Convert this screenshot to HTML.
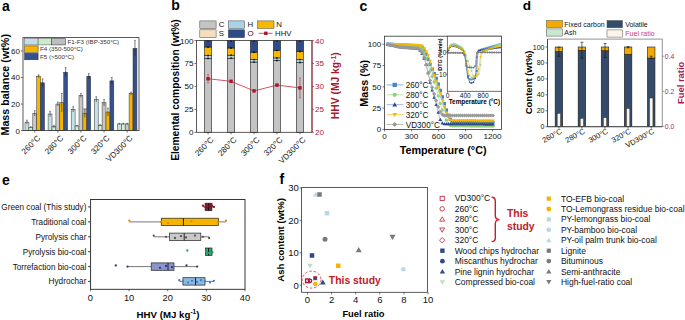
<!DOCTYPE html>
<html><head><meta charset="utf-8"><style>
html,body{margin:0;padding:0;background:#fff;width:685px;height:320px;overflow:hidden}
svg{display:block}
text{font-family:"Liberation Sans", sans-serif}
</style></head><body>
<svg width="685" height="320" viewBox="0 0 685 320">
<text x="2.00" y="11.00" font-size="14" font-weight="bold" text-anchor="start" fill="#000">a</text>
<text x="171.20" y="9.60" font-size="14" font-weight="bold" text-anchor="start" fill="#000">b</text>
<text x="359.60" y="10.60" font-size="14" font-weight="bold" text-anchor="start" fill="#000">c</text>
<text x="522.80" y="10.30" font-size="13.6" font-weight="bold" text-anchor="start" fill="#000">d</text>
<text x="2.00" y="185.00" font-size="14" font-weight="bold" text-anchor="start" fill="#000">e</text>
<text x="279.50" y="184.00" font-size="14" font-weight="bold" text-anchor="start" fill="#000">f</text>
<rect x="82.90" y="108.31" width="3.90" height="5.04" fill="#D6D6D6" stroke="#999" stroke-width="0.4"/>
<rect x="25.00" y="122.11" width="3.90" height="8.49" fill="#C6E1EC" stroke="#333" stroke-width="0.5"/>
<rect x="28.90" y="127.42" width="3.90" height="3.18" fill="#D3EFD0" stroke="#333" stroke-width="0.5"/>
<rect x="32.80" y="113.35" width="3.90" height="17.25" fill="#C8C8C8" stroke="#333" stroke-width="0.5"/>
<rect x="36.70" y="76.19" width="3.90" height="54.41" fill="#F7B500" stroke="#333" stroke-width="0.5"/>
<rect x="40.60" y="82.83" width="3.90" height="47.77" fill="#34508E" stroke="#333" stroke-width="0.5"/>
<line x1="26.95" y1="120.12" x2="26.95" y2="124.10" stroke="#222" stroke-width="0.6"/>
<line x1="26.15" y1="120.12" x2="27.75" y2="120.12" stroke="#222" stroke-width="0.5"/>
<line x1="30.85" y1="126.75" x2="30.85" y2="128.08" stroke="#222" stroke-width="0.6"/>
<line x1="30.05" y1="126.75" x2="31.65" y2="126.75" stroke="#222" stroke-width="0.5"/>
<line x1="34.75" y1="110.69" x2="34.75" y2="116.00" stroke="#222" stroke-width="0.6"/>
<line x1="33.95" y1="110.69" x2="35.55" y2="110.69" stroke="#222" stroke-width="0.5"/>
<line x1="38.65" y1="74.87" x2="38.65" y2="77.52" stroke="#222" stroke-width="0.6"/>
<line x1="37.85" y1="74.87" x2="39.45" y2="74.87" stroke="#222" stroke-width="0.5"/>
<line x1="42.55" y1="78.85" x2="42.55" y2="86.81" stroke="#222" stroke-width="0.6"/>
<line x1="41.75" y1="78.85" x2="43.35" y2="78.85" stroke="#222" stroke-width="0.5"/>
<rect x="48.10" y="114.01" width="3.90" height="16.59" fill="#C6E1EC" stroke="#333" stroke-width="0.5"/>
<rect x="52.00" y="126.62" width="3.90" height="3.98" fill="#D3EFD0" stroke="#333" stroke-width="0.5"/>
<rect x="55.90" y="104.06" width="3.90" height="26.54" fill="#C8C8C8" stroke="#333" stroke-width="0.5"/>
<rect x="59.80" y="102.73" width="3.90" height="27.87" fill="#F7B500" stroke="#333" stroke-width="0.5"/>
<rect x="63.70" y="72.21" width="3.90" height="58.39" fill="#34508E" stroke="#333" stroke-width="0.5"/>
<line x1="50.05" y1="111.36" x2="50.05" y2="116.67" stroke="#222" stroke-width="0.6"/>
<line x1="49.25" y1="111.36" x2="50.85" y2="111.36" stroke="#222" stroke-width="0.5"/>
<line x1="53.95" y1="125.29" x2="53.95" y2="127.95" stroke="#222" stroke-width="0.6"/>
<line x1="53.15" y1="125.29" x2="54.75" y2="125.29" stroke="#222" stroke-width="0.5"/>
<line x1="57.85" y1="102.07" x2="57.85" y2="106.05" stroke="#222" stroke-width="0.6"/>
<line x1="57.05" y1="102.07" x2="58.65" y2="102.07" stroke="#222" stroke-width="0.5"/>
<line x1="61.75" y1="93.44" x2="61.75" y2="112.02" stroke="#222" stroke-width="0.6"/>
<line x1="60.95" y1="93.44" x2="62.55" y2="93.44" stroke="#222" stroke-width="0.5"/>
<line x1="65.65" y1="67.57" x2="65.65" y2="76.86" stroke="#222" stroke-width="0.6"/>
<line x1="64.85" y1="67.57" x2="66.45" y2="67.57" stroke="#222" stroke-width="0.5"/>
<rect x="71.20" y="109.37" width="3.90" height="21.23" fill="#C6E1EC" stroke="#333" stroke-width="0.5"/>
<rect x="75.10" y="125.96" width="3.90" height="4.64" fill="#D3EFD0" stroke="#333" stroke-width="0.5"/>
<rect x="79.00" y="95.43" width="3.90" height="35.17" fill="#C8C8C8" stroke="#333" stroke-width="0.5"/>
<rect x="82.90" y="113.35" width="3.90" height="17.25" fill="#F7B500" stroke="#333" stroke-width="0.5"/>
<rect x="86.80" y="76.19" width="3.90" height="54.41" fill="#34508E" stroke="#333" stroke-width="0.5"/>
<line x1="73.15" y1="106.71" x2="73.15" y2="112.02" stroke="#222" stroke-width="0.6"/>
<line x1="72.35" y1="106.71" x2="73.95" y2="106.71" stroke="#222" stroke-width="0.5"/>
<line x1="77.05" y1="125.29" x2="77.05" y2="126.62" stroke="#222" stroke-width="0.6"/>
<line x1="76.25" y1="125.29" x2="77.85" y2="125.29" stroke="#222" stroke-width="0.5"/>
<line x1="80.95" y1="93.44" x2="80.95" y2="97.42" stroke="#222" stroke-width="0.6"/>
<line x1="80.15" y1="93.44" x2="81.75" y2="93.44" stroke="#222" stroke-width="0.5"/>
<line x1="84.85" y1="109.37" x2="84.85" y2="117.33" stroke="#222" stroke-width="0.6"/>
<line x1="84.05" y1="109.37" x2="85.65" y2="109.37" stroke="#222" stroke-width="0.5"/>
<line x1="88.75" y1="73.54" x2="88.75" y2="78.85" stroke="#222" stroke-width="0.6"/>
<line x1="87.95" y1="73.54" x2="89.55" y2="73.54" stroke="#222" stroke-width="0.5"/>
<rect x="94.30" y="99.42" width="3.90" height="31.18" fill="#C6E1EC" stroke="#333" stroke-width="0.5"/>
<rect x="98.20" y="125.29" width="3.90" height="5.31" fill="#D3EFD0" stroke="#333" stroke-width="0.5"/>
<rect x="102.10" y="102.73" width="3.90" height="27.87" fill="#C8C8C8" stroke="#333" stroke-width="0.5"/>
<rect x="106.00" y="112.02" width="3.90" height="18.58" fill="#F7B500" stroke="#333" stroke-width="0.5"/>
<rect x="109.90" y="80.84" width="3.90" height="49.76" fill="#34508E" stroke="#333" stroke-width="0.5"/>
<line x1="96.25" y1="96.76" x2="96.25" y2="102.07" stroke="#222" stroke-width="0.6"/>
<line x1="95.45" y1="96.76" x2="97.05" y2="96.76" stroke="#222" stroke-width="0.5"/>
<line x1="100.15" y1="124.63" x2="100.15" y2="125.96" stroke="#222" stroke-width="0.6"/>
<line x1="99.35" y1="124.63" x2="100.95" y2="124.63" stroke="#222" stroke-width="0.5"/>
<line x1="104.05" y1="99.42" x2="104.05" y2="106.05" stroke="#222" stroke-width="0.6"/>
<line x1="103.25" y1="99.42" x2="104.85" y2="99.42" stroke="#222" stroke-width="0.5"/>
<line x1="107.95" y1="108.04" x2="107.95" y2="116.00" stroke="#222" stroke-width="0.6"/>
<line x1="107.15" y1="108.04" x2="108.75" y2="108.04" stroke="#222" stroke-width="0.5"/>
<line x1="111.85" y1="77.52" x2="111.85" y2="84.16" stroke="#222" stroke-width="0.6"/>
<line x1="111.05" y1="77.52" x2="112.65" y2="77.52" stroke="#222" stroke-width="0.5"/>
<rect x="117.40" y="123.96" width="3.90" height="6.64" fill="#C6E1EC" stroke="#333" stroke-width="0.5"/>
<rect x="121.30" y="123.96" width="3.90" height="6.64" fill="#D3EFD0" stroke="#333" stroke-width="0.5"/>
<rect x="125.20" y="123.96" width="3.90" height="6.64" fill="#C8C8C8" stroke="#333" stroke-width="0.5"/>
<rect x="129.10" y="93.44" width="3.90" height="37.16" fill="#F7B500" stroke="#333" stroke-width="0.5"/>
<rect x="133.00" y="48.33" width="3.90" height="82.27" fill="#34508E" stroke="#333" stroke-width="0.5"/>
<line x1="119.35" y1="123.30" x2="119.35" y2="124.63" stroke="#222" stroke-width="0.6"/>
<line x1="118.55" y1="123.30" x2="120.15" y2="123.30" stroke="#222" stroke-width="0.5"/>
<line x1="123.25" y1="123.30" x2="123.25" y2="124.63" stroke="#222" stroke-width="0.6"/>
<line x1="122.45" y1="123.30" x2="124.05" y2="123.30" stroke="#222" stroke-width="0.5"/>
<line x1="127.15" y1="123.30" x2="127.15" y2="124.63" stroke="#222" stroke-width="0.6"/>
<line x1="126.35" y1="123.30" x2="127.95" y2="123.30" stroke="#222" stroke-width="0.5"/>
<line x1="131.05" y1="92.12" x2="131.05" y2="94.77" stroke="#222" stroke-width="0.6"/>
<line x1="130.25" y1="92.12" x2="131.85" y2="92.12" stroke="#222" stroke-width="0.5"/>
<line x1="134.95" y1="40.36" x2="134.95" y2="56.29" stroke="#222" stroke-width="0.6"/>
<line x1="134.15" y1="40.36" x2="135.75" y2="40.36" stroke="#222" stroke-width="0.5"/>
<rect x="23.00" y="37.60" width="116.00" height="93.00" fill="none" stroke="#333" stroke-width="0.8"/>
<line x1="21.00" y1="130.60" x2="23.00" y2="130.60" stroke="#333" stroke-width="0.7"/>
<text x="20.00" y="133.50" font-size="8" text-anchor="end" fill="#111">0</text>
<line x1="21.00" y1="104.06" x2="23.00" y2="104.06" stroke="#333" stroke-width="0.7"/>
<text x="20.00" y="106.96" font-size="8" text-anchor="end" fill="#111">20</text>
<line x1="21.00" y1="77.52" x2="23.00" y2="77.52" stroke="#333" stroke-width="0.7"/>
<text x="20.00" y="80.42" font-size="8" text-anchor="end" fill="#111">40</text>
<line x1="21.00" y1="50.98" x2="23.00" y2="50.98" stroke="#333" stroke-width="0.7"/>
<text x="20.00" y="53.88" font-size="8" text-anchor="end" fill="#111">60</text>
<line x1="34.75" y1="130.60" x2="34.75" y2="132.60" stroke="#333" stroke-width="0.7"/>
<line x1="57.85" y1="130.60" x2="57.85" y2="132.60" stroke="#333" stroke-width="0.7"/>
<line x1="80.95" y1="130.60" x2="80.95" y2="132.60" stroke="#333" stroke-width="0.7"/>
<line x1="104.05" y1="130.60" x2="104.05" y2="132.60" stroke="#333" stroke-width="0.7"/>
<line x1="127.15" y1="130.60" x2="127.15" y2="132.60" stroke="#333" stroke-width="0.7"/>
<text x="40.85" y="138.70" font-size="8.1" text-anchor="end" fill="#111" transform="rotate(-45 40.85 138.70)">260°C</text>
<text x="63.95" y="138.70" font-size="8.1" text-anchor="end" fill="#111" transform="rotate(-45 63.95 138.70)">280°C</text>
<text x="87.05" y="138.70" font-size="8.1" text-anchor="end" fill="#111" transform="rotate(-45 87.05 138.70)">300°C</text>
<text x="110.15" y="138.70" font-size="8.1" text-anchor="end" fill="#111" transform="rotate(-45 110.15 138.70)">320°C</text>
<text x="133.25" y="138.70" font-size="8.1" text-anchor="end" fill="#111" transform="rotate(-45 133.25 138.70)">VD300°C</text>
<text x="8.60" y="84.80" font-size="10.75" font-weight="bold" text-anchor="middle" fill="#000" transform="rotate(-90 8.60 84.80)">Mass balance (wt%)</text>
<rect x="24.60" y="38.70" width="13.50" height="6.20" fill="#C5DDEA" stroke="#555" stroke-width="0.5"/>
<rect x="38.10" y="38.70" width="13.50" height="6.20" fill="#CBEBC8" stroke="#555" stroke-width="0.5"/>
<rect x="51.60" y="38.70" width="13.80" height="6.20" fill="#BDBDBD" stroke="#444" stroke-width="0.6"/>
<text x="67.50" y="43.80" font-size="6.2" text-anchor="start" fill="#333">F1-F3 (IBP-350°C)</text>
<rect x="24.60" y="45.90" width="13.50" height="6.40" fill="#F7B500" stroke="#333" stroke-width="0.5"/>
<text x="40.00" y="51.20" font-size="6.2" text-anchor="start" fill="#333">F4 (350-500°C)</text>
<rect x="24.60" y="53.30" width="13.50" height="6.50" fill="#34508E" stroke="#333" stroke-width="0.5"/>
<text x="40.00" y="58.70" font-size="6.2" text-anchor="start" fill="#333">F5 (&gt;500°C)</text>
<rect x="204.40" y="58.40" width="7.30" height="73.90" fill="#C4C4C4" stroke="#222" stroke-width="0.6"/>
<rect x="204.40" y="55.50" width="7.30" height="2.90" fill="#A8D4E6" stroke="#222" stroke-width="0.6"/>
<rect x="204.40" y="47.00" width="7.30" height="8.50" fill="#F8B800" stroke="#222" stroke-width="0.6"/>
<rect x="204.40" y="40.60" width="7.30" height="6.40" fill="#2E4A88" stroke="#222" stroke-width="0.6"/>
<circle cx="208.05" cy="47.00" r="0.90" fill="#111" stroke="none" stroke-width="0.5"/>
<circle cx="208.05" cy="55.50" r="0.90" fill="#111" stroke="none" stroke-width="0.5"/>
<circle cx="208.05" cy="58.40" r="0.90" fill="#111" stroke="none" stroke-width="0.5"/>
<circle cx="208.05" cy="40.90" r="0.90" fill="#111" stroke="none" stroke-width="0.5"/>
<rect x="227.40" y="58.20" width="7.30" height="74.10" fill="#C4C4C4" stroke="#222" stroke-width="0.6"/>
<rect x="227.40" y="55.20" width="7.30" height="3.00" fill="#A8D4E6" stroke="#222" stroke-width="0.6"/>
<rect x="227.40" y="48.00" width="7.30" height="7.20" fill="#F8B800" stroke="#222" stroke-width="0.6"/>
<rect x="227.40" y="40.60" width="7.30" height="7.40" fill="#2E4A88" stroke="#222" stroke-width="0.6"/>
<circle cx="231.05" cy="48.00" r="0.90" fill="#111" stroke="none" stroke-width="0.5"/>
<circle cx="231.05" cy="55.20" r="0.90" fill="#111" stroke="none" stroke-width="0.5"/>
<circle cx="231.05" cy="58.20" r="0.90" fill="#111" stroke="none" stroke-width="0.5"/>
<circle cx="231.05" cy="40.90" r="0.90" fill="#111" stroke="none" stroke-width="0.5"/>
<rect x="250.40" y="62.10" width="7.30" height="70.20" fill="#C4C4C4" stroke="#222" stroke-width="0.6"/>
<rect x="250.40" y="59.60" width="7.30" height="2.50" fill="#A8D4E6" stroke="#222" stroke-width="0.6"/>
<rect x="250.40" y="52.20" width="7.30" height="7.40" fill="#F8B800" stroke="#222" stroke-width="0.6"/>
<rect x="250.40" y="40.60" width="7.30" height="11.60" fill="#2E4A88" stroke="#222" stroke-width="0.6"/>
<circle cx="254.05" cy="52.20" r="0.90" fill="#111" stroke="none" stroke-width="0.5"/>
<circle cx="254.05" cy="59.60" r="0.90" fill="#111" stroke="none" stroke-width="0.5"/>
<circle cx="254.05" cy="62.10" r="0.90" fill="#111" stroke="none" stroke-width="0.5"/>
<circle cx="254.05" cy="40.90" r="0.90" fill="#111" stroke="none" stroke-width="0.5"/>
<rect x="273.30" y="60.50" width="7.30" height="71.80" fill="#C4C4C4" stroke="#222" stroke-width="0.6"/>
<rect x="273.30" y="57.90" width="7.30" height="2.60" fill="#A8D4E6" stroke="#222" stroke-width="0.6"/>
<rect x="273.30" y="50.30" width="7.30" height="7.60" fill="#F8B800" stroke="#222" stroke-width="0.6"/>
<rect x="273.30" y="40.60" width="7.30" height="9.70" fill="#2E4A88" stroke="#222" stroke-width="0.6"/>
<circle cx="276.95" cy="50.30" r="0.90" fill="#111" stroke="none" stroke-width="0.5"/>
<circle cx="276.95" cy="57.90" r="0.90" fill="#111" stroke="none" stroke-width="0.5"/>
<circle cx="276.95" cy="60.50" r="0.90" fill="#111" stroke="none" stroke-width="0.5"/>
<circle cx="276.95" cy="40.90" r="0.90" fill="#111" stroke="none" stroke-width="0.5"/>
<rect x="296.30" y="62.50" width="7.30" height="69.80" fill="#C4C4C4" stroke="#222" stroke-width="0.6"/>
<rect x="296.30" y="59.60" width="7.30" height="2.90" fill="#A8D4E6" stroke="#222" stroke-width="0.6"/>
<rect x="296.30" y="51.50" width="7.30" height="8.10" fill="#F8B800" stroke="#222" stroke-width="0.6"/>
<rect x="296.30" y="40.60" width="7.30" height="10.90" fill="#2E4A88" stroke="#222" stroke-width="0.6"/>
<circle cx="299.95" cy="51.50" r="0.90" fill="#111" stroke="none" stroke-width="0.5"/>
<circle cx="299.95" cy="59.60" r="0.90" fill="#111" stroke="none" stroke-width="0.5"/>
<circle cx="299.95" cy="62.50" r="0.90" fill="#111" stroke="none" stroke-width="0.5"/>
<circle cx="299.95" cy="40.90" r="0.90" fill="#111" stroke="none" stroke-width="0.5"/>
<rect x="196.50" y="40.60" width="115.50" height="91.70" fill="none" stroke="#333" stroke-width="0.8"/>
<line x1="312.00" y1="40.60" x2="312.00" y2="132.30" stroke="#B22234" stroke-width="0.9"/>
<line x1="194.50" y1="132.30" x2="196.50" y2="132.30" stroke="#333" stroke-width="0.7"/>
<text x="193.50" y="135.20" font-size="8.1" text-anchor="end" fill="#111">0</text>
<line x1="312.00" y1="132.30" x2="314.00" y2="132.30" stroke="#B22234" stroke-width="0.7"/>
<text x="315.00" y="135.20" font-size="8.1" text-anchor="start" fill="#B22234">20</text>
<line x1="194.50" y1="109.38" x2="196.50" y2="109.38" stroke="#333" stroke-width="0.7"/>
<text x="193.50" y="112.28" font-size="8.1" text-anchor="end" fill="#111">25</text>
<line x1="312.00" y1="109.38" x2="314.00" y2="109.38" stroke="#B22234" stroke-width="0.7"/>
<text x="315.00" y="112.28" font-size="8.1" text-anchor="start" fill="#B22234">25</text>
<line x1="194.50" y1="86.45" x2="196.50" y2="86.45" stroke="#333" stroke-width="0.7"/>
<text x="193.50" y="89.35" font-size="8.1" text-anchor="end" fill="#111">50</text>
<line x1="312.00" y1="86.45" x2="314.00" y2="86.45" stroke="#B22234" stroke-width="0.7"/>
<text x="315.00" y="89.35" font-size="8.1" text-anchor="start" fill="#B22234">30</text>
<line x1="194.50" y1="63.53" x2="196.50" y2="63.53" stroke="#333" stroke-width="0.7"/>
<text x="193.50" y="66.43" font-size="8.1" text-anchor="end" fill="#111">75</text>
<line x1="312.00" y1="63.53" x2="314.00" y2="63.53" stroke="#B22234" stroke-width="0.7"/>
<text x="315.00" y="66.43" font-size="8.1" text-anchor="start" fill="#B22234">35</text>
<line x1="194.50" y1="40.60" x2="196.50" y2="40.60" stroke="#333" stroke-width="0.7"/>
<text x="193.50" y="43.50" font-size="8.1" text-anchor="end" fill="#111">100</text>
<line x1="312.00" y1="40.60" x2="314.00" y2="40.60" stroke="#B22234" stroke-width="0.7"/>
<text x="315.00" y="43.50" font-size="8.1" text-anchor="start" fill="#B22234">40</text>
<line x1="208.05" y1="132.30" x2="208.05" y2="134.30" stroke="#333" stroke-width="0.7"/>
<text x="214.15" y="140.40" font-size="8.1" text-anchor="end" fill="#111" transform="rotate(-45 214.15 140.40)">260°C</text>
<line x1="231.05" y1="132.30" x2="231.05" y2="134.30" stroke="#333" stroke-width="0.7"/>
<text x="237.15" y="140.40" font-size="8.1" text-anchor="end" fill="#111" transform="rotate(-45 237.15 140.40)">280°C</text>
<line x1="254.05" y1="132.30" x2="254.05" y2="134.30" stroke="#333" stroke-width="0.7"/>
<text x="260.15" y="140.40" font-size="8.1" text-anchor="end" fill="#111" transform="rotate(-45 260.15 140.40)">300°C</text>
<line x1="276.95" y1="132.30" x2="276.95" y2="134.30" stroke="#333" stroke-width="0.7"/>
<text x="283.05" y="140.40" font-size="8.1" text-anchor="end" fill="#111" transform="rotate(-45 283.05 140.40)">320°C</text>
<line x1="299.95" y1="132.30" x2="299.95" y2="134.30" stroke="#333" stroke-width="0.7"/>
<text x="306.05" y="140.40" font-size="8.1" text-anchor="end" fill="#111" transform="rotate(-45 306.05 140.40)">VD300°C</text>
<text x="179.20" y="90.00" font-size="10.2" font-weight="bold" text-anchor="middle" fill="#000" transform="rotate(-90 179.20 90.00)">Elemental composition (wt%)</text>
<text x="339.2" y="85.7" font-size="10.3" font-weight="bold" text-anchor="middle" fill="#A8182C" transform="rotate(-90 339.2 85.7)">HHV (MJ kg<tspan dy="-3.5" font-size="7">-1</tspan><tspan dy="3.5">)</tspan></text>
<polyline points="208.05,78.75 231.05,81.30 254.05,90.90 276.95,85.10 299.95,87.90" fill="none" stroke="#C8283A" stroke-width="0.8"/>
<line x1="208.05" y1="74.55" x2="208.05" y2="82.95" stroke="#C8283A" stroke-width="0.6"/>
<line x1="207.05" y1="74.55" x2="209.05" y2="74.55" stroke="#C8283A" stroke-width="0.5"/>
<line x1="207.05" y1="82.95" x2="209.05" y2="82.95" stroke="#C8283A" stroke-width="0.5"/>
<rect x="206.35" y="77.05" width="3.40" height="3.40" fill="#A8162A" stroke="none" stroke-width="0.6"/>
<line x1="231.05" y1="80.30" x2="231.05" y2="82.30" stroke="#C8283A" stroke-width="0.6"/>
<line x1="230.05" y1="80.30" x2="232.05" y2="80.30" stroke="#C8283A" stroke-width="0.5"/>
<line x1="230.05" y1="82.30" x2="232.05" y2="82.30" stroke="#C8283A" stroke-width="0.5"/>
<rect x="229.35" y="79.60" width="3.40" height="3.40" fill="#A8162A" stroke="none" stroke-width="0.6"/>
<line x1="254.05" y1="89.90" x2="254.05" y2="91.90" stroke="#C8283A" stroke-width="0.6"/>
<line x1="253.05" y1="89.90" x2="255.05" y2="89.90" stroke="#C8283A" stroke-width="0.5"/>
<line x1="253.05" y1="91.90" x2="255.05" y2="91.90" stroke="#C8283A" stroke-width="0.5"/>
<rect x="252.35" y="89.20" width="3.40" height="3.40" fill="#A8162A" stroke="none" stroke-width="0.6"/>
<line x1="276.95" y1="84.10" x2="276.95" y2="86.10" stroke="#C8283A" stroke-width="0.6"/>
<line x1="275.95" y1="84.10" x2="277.95" y2="84.10" stroke="#C8283A" stroke-width="0.5"/>
<line x1="275.95" y1="86.10" x2="277.95" y2="86.10" stroke="#C8283A" stroke-width="0.5"/>
<rect x="275.25" y="83.40" width="3.40" height="3.40" fill="#A8162A" stroke="none" stroke-width="0.6"/>
<line x1="299.95" y1="77.90" x2="299.95" y2="97.90" stroke="#C8283A" stroke-width="0.6"/>
<line x1="298.95" y1="77.90" x2="300.95" y2="77.90" stroke="#C8283A" stroke-width="0.5"/>
<line x1="298.95" y1="97.90" x2="300.95" y2="97.90" stroke="#C8283A" stroke-width="0.5"/>
<rect x="298.25" y="86.20" width="3.40" height="3.40" fill="#A8162A" stroke="none" stroke-width="0.6"/>
<rect x="199.80" y="20.90" width="16.30" height="7.50" fill="#C4C4C4" stroke="#444" stroke-width="0.5"/>
<text x="218.80" y="27.00" font-size="7.8" text-anchor="start" fill="#111">C</text>
<rect x="228.30" y="20.90" width="16.30" height="7.50" fill="#A8D4E6" stroke="#444" stroke-width="0.5"/>
<text x="247.50" y="27.00" font-size="7.8" text-anchor="start" fill="#111">H</text>
<rect x="257.50" y="20.90" width="16.50" height="7.50" fill="#F8B800" stroke="#444" stroke-width="0.5"/>
<text x="276.20" y="27.00" font-size="7.8" text-anchor="start" fill="#111">N</text>
<rect x="199.80" y="29.80" width="16.30" height="7.90" fill="#F5DEC0" stroke="#444" stroke-width="0.5"/>
<text x="218.80" y="36.40" font-size="7.8" text-anchor="start" fill="#111">S</text>
<rect x="228.30" y="29.80" width="16.30" height="7.90" fill="#2E4A88" stroke="#444" stroke-width="0.5"/>
<text x="247.50" y="36.40" font-size="7.8" text-anchor="start" fill="#111">O</text>
<line x1="258.70" y1="33.30" x2="272.50" y2="33.30" stroke="#C8283A" stroke-width="0.8"/>
<rect x="264.10" y="31.60" width="3.40" height="3.40" fill="#A8162A" stroke="none" stroke-width="0.6"/>
<text x="275.00" y="36.20" font-size="7.8" text-anchor="start" fill="#111">HHV</text>
<polyline points="387.20,44.27 387.57,44.28 387.94,44.30 388.30,44.31 388.67,44.33 389.04,44.35 389.41,44.37 389.78,44.39 390.14,44.41 390.51,44.43 390.88,44.44 391.25,44.46 391.62,44.48 391.98,44.50 392.35,44.52 392.72,44.54 393.09,44.56 393.46,44.58 393.82,44.60 394.19,44.62 394.56,44.64 394.93,44.66 395.30,44.68 395.66,44.70 396.03,44.72 396.40,44.74 396.77,44.76 397.14,44.78 397.50,44.79 397.87,44.81 398.24,44.83 398.61,44.85 398.98,44.87 399.34,44.89 399.71,44.91 400.08,44.93 400.45,44.95 400.82,44.97 401.18,44.99 401.55,45.01 401.92,45.03 402.29,45.05 402.66,45.07 403.02,45.10 403.39,45.12 403.76,45.15 404.13,45.18 404.50,45.21 404.86,45.25 405.23,45.28 405.60,45.31 405.97,45.35 406.34,45.38 406.70,45.42 407.07,45.45 407.44,45.48 407.81,45.52 408.18,45.55 408.54,45.59 408.91,45.62 409.28,45.65 409.65,45.69 410.02,45.72 410.38,45.76 410.75,45.79 411.12,45.83 411.49,45.86 411.86,45.89 412.22,45.93 412.59,45.96 412.96,46.00 413.33,46.03 413.70,46.06 414.06,46.10 414.43,46.13 414.80,46.17 415.17,46.20 415.54,46.23 415.90,46.27 416.27,46.30 416.64,46.34 417.01,46.37 417.38,46.40 417.74,46.44 418.11,46.47 418.48,46.51 418.85,46.54 419.22,46.57 419.58,46.61 419.95,46.66 420.32,46.73 420.69,46.83 421.06,46.96 421.42,47.17 421.79,47.41 422.16,47.75 422.53,48.11 422.90,48.55 423.26,49.01 423.63,49.52 424.00,50.05 424.37,50.63 424.74,51.23 425.10,51.91 425.47,52.62 425.84,53.43 426.21,54.26 426.58,55.16 426.94,56.08 427.31,57.04 427.68,58.00 428.05,58.97 428.42,59.94 428.78,60.90 429.15,61.85 429.52,62.80 429.89,63.74 430.26,64.65 430.62,65.56 430.99,66.45 431.36,67.33 431.73,68.19 432.10,69.04 432.46,69.87 432.83,70.68 433.20,71.48 433.57,72.26 433.94,73.05 434.30,73.83 434.67,74.62 435.04,75.44 435.41,76.28 435.78,77.17 436.14,78.09 436.51,79.07 436.88,80.08 437.25,81.14 437.62,82.22 437.98,83.33 438.35,84.45 438.72,85.58 439.09,86.72 439.46,87.86 439.82,89.02 440.19,90.18 440.56,91.34 440.93,92.50 441.30,93.67 441.66,94.85 442.03,96.04 442.40,97.24 442.77,98.45 443.14,99.69 443.50,100.93 443.87,102.19 444.24,103.44 444.61,104.68 444.98,105.91 445.34,107.10 445.71,108.26 446.08,109.36 446.45,110.42 446.82,111.45 447.18,112.42 447.55,113.37 447.92,114.27 448.29,115.16 448.66,115.98 449.02,116.80 449.39,117.53 449.76,118.26 450.13,118.91 450.50,119.55 450.86,120.11 451.23,120.65 451.60,121.08 451.97,121.47 452.34,121.74 452.70,121.97 453.07,122.10 453.44,122.19 453.81,122.23 454.18,122.26 454.54,122.27 454.91,122.27 455.28,122.27 455.65,122.28 456.02,122.28 456.38,122.28 456.75,122.28 457.12,122.29 457.49,122.29 457.86,122.29 458.22,122.30 458.59,122.30 458.96,122.30 459.33,122.30 459.70,122.31 460.06,122.31 460.43,122.31 460.80,122.32 461.17,122.32 461.54,122.32 461.90,122.32 462.27,122.33 462.64,122.33 463.01,122.33 463.38,122.34 463.74,122.34 464.11,122.34 464.48,122.35 464.85,122.35 465.22,122.35 465.58,122.35 465.95,122.36 466.32,122.36 466.69,122.36 467.06,122.37 467.42,122.37 467.79,122.37 468.16,122.37 468.53,122.38 468.90,122.38 469.26,122.38 469.63,122.39 470.00,122.39 470.37,122.39 470.74,122.39 471.10,122.40 471.47,122.40 471.84,122.40 472.21,122.41 472.58,122.41 472.94,122.41 473.31,122.41 473.68,122.42 474.05,122.42 474.42,122.42 474.78,122.43 475.15,122.43 475.52,122.43 475.89,122.44 476.26,122.44 476.62,122.44 476.99,122.44 477.36,122.45 477.73,122.45 478.10,122.45 478.46,122.46 478.83,122.46 479.20,122.46 479.57,122.46 479.94,122.47 480.30,122.47 480.67,122.47 481.04,122.48 481.41,122.48 481.78,122.48 482.14,122.48 482.51,122.49 482.88,122.49 483.25,122.49 483.62,122.50 483.98,122.50 484.35,122.50 484.72,122.50 485.09,122.51 485.46,122.51 485.82,122.51 486.19,122.52 486.56,122.52 486.93,122.52 487.30,122.52 487.66,122.53 488.03,122.53 488.40,122.53 488.77,122.54 489.14,122.54 489.50,122.54 489.87,122.55 490.24,122.55 490.61,122.55 490.98,122.55 491.34,122.56 491.71,122.56 492.08,122.56 492.45,122.57 492.82,122.57 493.18,122.57 493.55,122.57 493.92,122.58 494.29,122.58" fill="none" stroke="#7FAAD2" stroke-width="0.8"/>
<rect x="385.96" y="42.59" width="3.40" height="3.40" fill="#4A86BE" stroke="none" stroke-width="0.6"/>
<rect x="387.98" y="42.68" width="3.40" height="3.40" fill="#4A86BE" stroke="none" stroke-width="0.6"/>
<rect x="390.01" y="42.79" width="3.40" height="3.40" fill="#4A86BE" stroke="none" stroke-width="0.6"/>
<rect x="392.03" y="42.90" width="3.40" height="3.40" fill="#4A86BE" stroke="none" stroke-width="0.6"/>
<rect x="394.06" y="43.00" width="3.40" height="3.40" fill="#4A86BE" stroke="none" stroke-width="0.6"/>
<rect x="396.08" y="43.11" width="3.40" height="3.40" fill="#4A86BE" stroke="none" stroke-width="0.6"/>
<rect x="398.10" y="43.22" width="3.40" height="3.40" fill="#4A86BE" stroke="none" stroke-width="0.6"/>
<rect x="400.13" y="43.32" width="3.40" height="3.40" fill="#4A86BE" stroke="none" stroke-width="0.6"/>
<rect x="402.15" y="43.46" width="3.40" height="3.40" fill="#4A86BE" stroke="none" stroke-width="0.6"/>
<rect x="404.18" y="43.64" width="3.40" height="3.40" fill="#4A86BE" stroke="none" stroke-width="0.6"/>
<rect x="406.20" y="43.83" width="3.40" height="3.40" fill="#4A86BE" stroke="none" stroke-width="0.6"/>
<rect x="408.22" y="44.01" width="3.40" height="3.40" fill="#4A86BE" stroke="none" stroke-width="0.6"/>
<rect x="410.25" y="44.20" width="3.40" height="3.40" fill="#4A86BE" stroke="none" stroke-width="0.6"/>
<rect x="412.27" y="44.39" width="3.40" height="3.40" fill="#4A86BE" stroke="none" stroke-width="0.6"/>
<rect x="414.30" y="44.58" width="3.40" height="3.40" fill="#4A86BE" stroke="none" stroke-width="0.6"/>
<rect x="416.32" y="44.76" width="3.40" height="3.40" fill="#4A86BE" stroke="none" stroke-width="0.6"/>
<rect x="418.34" y="44.98" width="3.40" height="3.40" fill="#4A86BE" stroke="none" stroke-width="0.6"/>
<rect x="420.37" y="45.97" width="3.40" height="3.40" fill="#4A86BE" stroke="none" stroke-width="0.6"/>
<rect x="422.39" y="48.49" width="3.40" height="3.40" fill="#4A86BE" stroke="none" stroke-width="0.6"/>
<rect x="424.42" y="52.33" width="3.40" height="3.40" fill="#4A86BE" stroke="none" stroke-width="0.6"/>
<rect x="426.44" y="57.51" width="3.40" height="3.40" fill="#4A86BE" stroke="none" stroke-width="0.6"/>
<rect x="428.46" y="62.72" width="3.40" height="3.40" fill="#4A86BE" stroke="none" stroke-width="0.6"/>
<rect x="430.49" y="67.55" width="3.40" height="3.40" fill="#4A86BE" stroke="none" stroke-width="0.6"/>
<rect x="432.51" y="71.94" width="3.40" height="3.40" fill="#4A86BE" stroke="none" stroke-width="0.6"/>
<rect x="434.54" y="76.63" width="3.40" height="3.40" fill="#4A86BE" stroke="none" stroke-width="0.6"/>
<rect x="436.56" y="82.46" width="3.40" height="3.40" fill="#4A86BE" stroke="none" stroke-width="0.6"/>
<rect x="438.58" y="88.76" width="3.40" height="3.40" fill="#4A86BE" stroke="none" stroke-width="0.6"/>
<rect x="440.61" y="95.24" width="3.40" height="3.40" fill="#4A86BE" stroke="none" stroke-width="0.6"/>
<rect x="442.63" y="102.05" width="3.40" height="3.40" fill="#4A86BE" stroke="none" stroke-width="0.6"/>
<rect x="444.66" y="108.46" width="3.40" height="3.40" fill="#4A86BE" stroke="none" stroke-width="0.6"/>
<rect x="446.68" y="113.66" width="3.40" height="3.40" fill="#4A86BE" stroke="none" stroke-width="0.6"/>
<rect x="448.70" y="117.69" width="3.40" height="3.40" fill="#4A86BE" stroke="none" stroke-width="0.6"/>
<rect x="450.73" y="120.10" width="3.40" height="3.40" fill="#4A86BE" stroke="none" stroke-width="0.6"/>
<rect x="452.75" y="120.57" width="3.40" height="3.40" fill="#4A86BE" stroke="none" stroke-width="0.6"/>
<rect x="454.78" y="120.58" width="3.40" height="3.40" fill="#4A86BE" stroke="none" stroke-width="0.6"/>
<rect x="456.80" y="120.60" width="3.40" height="3.40" fill="#4A86BE" stroke="none" stroke-width="0.6"/>
<rect x="458.82" y="120.61" width="3.40" height="3.40" fill="#4A86BE" stroke="none" stroke-width="0.6"/>
<rect x="460.85" y="120.63" width="3.40" height="3.40" fill="#4A86BE" stroke="none" stroke-width="0.6"/>
<rect x="462.87" y="120.65" width="3.40" height="3.40" fill="#4A86BE" stroke="none" stroke-width="0.6"/>
<rect x="464.90" y="120.66" width="3.40" height="3.40" fill="#4A86BE" stroke="none" stroke-width="0.6"/>
<rect x="466.92" y="120.68" width="3.40" height="3.40" fill="#4A86BE" stroke="none" stroke-width="0.6"/>
<rect x="468.94" y="120.69" width="3.40" height="3.40" fill="#4A86BE" stroke="none" stroke-width="0.6"/>
<rect x="470.97" y="120.71" width="3.40" height="3.40" fill="#4A86BE" stroke="none" stroke-width="0.6"/>
<rect x="472.99" y="120.73" width="3.40" height="3.40" fill="#4A86BE" stroke="none" stroke-width="0.6"/>
<rect x="475.02" y="120.74" width="3.40" height="3.40" fill="#4A86BE" stroke="none" stroke-width="0.6"/>
<rect x="477.04" y="120.76" width="3.40" height="3.40" fill="#4A86BE" stroke="none" stroke-width="0.6"/>
<rect x="479.06" y="120.77" width="3.40" height="3.40" fill="#4A86BE" stroke="none" stroke-width="0.6"/>
<rect x="481.09" y="120.79" width="3.40" height="3.40" fill="#4A86BE" stroke="none" stroke-width="0.6"/>
<rect x="483.11" y="120.81" width="3.40" height="3.40" fill="#4A86BE" stroke="none" stroke-width="0.6"/>
<rect x="485.14" y="120.82" width="3.40" height="3.40" fill="#4A86BE" stroke="none" stroke-width="0.6"/>
<rect x="487.16" y="120.84" width="3.40" height="3.40" fill="#4A86BE" stroke="none" stroke-width="0.6"/>
<rect x="489.18" y="120.85" width="3.40" height="3.40" fill="#4A86BE" stroke="none" stroke-width="0.6"/>
<rect x="491.21" y="120.87" width="3.40" height="3.40" fill="#4A86BE" stroke="none" stroke-width="0.6"/>
<polyline points="387.20,44.27 387.57,44.28 387.94,44.30 388.30,44.31 388.67,44.33 389.04,44.35 389.41,44.37 389.78,44.39 390.14,44.41 390.51,44.43 390.88,44.44 391.25,44.46 391.62,44.48 391.98,44.50 392.35,44.52 392.72,44.54 393.09,44.56 393.46,44.58 393.82,44.60 394.19,44.62 394.56,44.64 394.93,44.66 395.30,44.68 395.66,44.70 396.03,44.72 396.40,44.74 396.77,44.76 397.14,44.78 397.50,44.79 397.87,44.81 398.24,44.83 398.61,44.85 398.98,44.87 399.34,44.89 399.71,44.91 400.08,44.93 400.45,44.95 400.82,44.97 401.18,44.99 401.55,45.01 401.92,45.03 402.29,45.05 402.66,45.07 403.02,45.10 403.39,45.13 403.76,45.16 404.13,45.19 404.50,45.22 404.86,45.25 405.23,45.29 405.60,45.33 405.97,45.36 406.34,45.40 406.70,45.43 407.07,45.47 407.44,45.50 407.81,45.54 408.18,45.58 408.54,45.61 408.91,45.65 409.28,45.68 409.65,45.72 410.02,45.76 410.38,45.79 410.75,45.83 411.12,45.86 411.49,45.90 411.86,45.94 412.22,45.97 412.59,46.01 412.96,46.04 413.33,46.08 413.70,46.11 414.06,46.15 414.43,46.19 414.80,46.22 415.17,46.26 415.54,46.29 415.90,46.33 416.27,46.37 416.64,46.40 417.01,46.44 417.38,46.47 417.74,46.51 418.11,46.54 418.48,46.58 418.85,46.63 419.22,46.69 419.58,46.79 419.95,46.91 420.32,47.12 420.69,47.36 421.06,47.71 421.42,48.11 421.79,48.59 422.16,49.10 422.53,49.68 422.90,50.28 423.26,50.94 423.63,51.63 424.00,52.43 424.37,53.25 424.74,54.21 425.10,55.20 425.47,56.31 425.84,57.44 426.21,58.62 426.58,59.82 426.94,61.02 427.31,62.22 427.68,63.40 428.05,64.57 428.42,65.71 428.78,66.84 429.15,67.95 429.52,69.05 429.89,70.14 430.26,71.21 430.62,72.27 430.99,73.31 431.36,74.33 431.73,75.35 432.10,76.34 432.46,77.33 432.83,78.30 433.20,79.27 433.57,80.25 433.94,81.23 434.30,82.23 434.67,83.27 435.04,84.33 435.41,85.48 435.78,86.65 436.14,87.92 436.51,89.22 436.88,90.60 437.25,91.99 437.62,93.42 437.98,94.85 438.35,96.28 438.72,97.69 439.09,99.07 439.46,100.43 439.82,101.76 440.19,103.05 440.56,104.32 440.93,105.55 441.30,106.76 441.66,107.93 442.03,109.10 442.40,110.20 442.77,111.30 443.14,112.32 443.50,113.34 443.87,114.30 444.24,115.26 444.61,116.17 444.98,117.06 445.34,117.92 445.71,118.76 446.08,119.56 446.45,120.33 446.82,121.07 447.18,121.78 447.55,122.46 447.92,123.10 448.29,123.69 448.66,124.23 449.02,124.67 449.39,125.06 449.76,125.31 450.13,125.52 450.50,125.62 450.86,125.71 451.23,125.74 451.60,125.76 451.97,125.76 452.34,125.77 452.70,125.77 453.07,125.77 453.44,125.78 453.81,125.78 454.18,125.78 454.54,125.79 454.91,125.79 455.28,125.79 455.65,125.80 456.02,125.80 456.38,125.80 456.75,125.81 457.12,125.81 457.49,125.81 457.86,125.82 458.22,125.82 458.59,125.82 458.96,125.83 459.33,125.83 459.70,125.83 460.06,125.84 460.43,125.84 460.80,125.84 461.17,125.85 461.54,125.85 461.90,125.86 462.27,125.86 462.64,125.86 463.01,125.87 463.38,125.87 463.74,125.87 464.11,125.88 464.48,125.88 464.85,125.88 465.22,125.89 465.58,125.89 465.95,125.89 466.32,125.90 466.69,125.90 467.06,125.90 467.42,125.91 467.79,125.91 468.16,125.91 468.53,125.92 468.90,125.92 469.26,125.92 469.63,125.93 470.00,125.93 470.37,125.93 470.74,125.94 471.10,125.94 471.47,125.94 471.84,125.95 472.21,125.95 472.58,125.95 472.94,125.96 473.31,125.96 473.68,125.96 474.05,125.97 474.42,125.97 474.78,125.97 475.15,125.98 475.52,125.98 475.89,125.98 476.26,125.99 476.62,125.99 476.99,125.99 477.36,126.00 477.73,126.00 478.10,126.01 478.46,126.01 478.83,126.01 479.20,126.02 479.57,126.02 479.94,126.02 480.30,126.03 480.67,126.03 481.04,126.03 481.41,126.04 481.78,126.04 482.14,126.04 482.51,126.05 482.88,126.05 483.25,126.05 483.62,126.06 483.98,126.06 484.35,126.06 484.72,126.07 485.09,126.07 485.46,126.07 485.82,126.08 486.19,126.08 486.56,126.08 486.93,126.09 487.30,126.09 487.66,126.09 488.03,126.10 488.40,126.10 488.77,126.10 489.14,126.11 489.50,126.11 489.87,126.11 490.24,126.12 490.61,126.12 490.98,126.12 491.34,126.13 491.71,126.13 492.08,126.13 492.45,126.14 492.82,126.14 493.18,126.14 493.55,126.15 493.92,126.15 494.29,126.15" fill="none" stroke="#B5E0A5" stroke-width="0.8"/>
<circle cx="387.66" cy="44.29" r="1.70" fill="#92D07E" stroke="none" stroke-width="0.6"/>
<circle cx="389.68" cy="44.38" r="1.70" fill="#92D07E" stroke="none" stroke-width="0.6"/>
<circle cx="391.71" cy="44.49" r="1.70" fill="#92D07E" stroke="none" stroke-width="0.6"/>
<circle cx="393.73" cy="44.60" r="1.70" fill="#92D07E" stroke="none" stroke-width="0.6"/>
<circle cx="395.76" cy="44.70" r="1.70" fill="#92D07E" stroke="none" stroke-width="0.6"/>
<circle cx="397.78" cy="44.81" r="1.70" fill="#92D07E" stroke="none" stroke-width="0.6"/>
<circle cx="399.80" cy="44.92" r="1.70" fill="#92D07E" stroke="none" stroke-width="0.6"/>
<circle cx="401.83" cy="45.02" r="1.70" fill="#92D07E" stroke="none" stroke-width="0.6"/>
<circle cx="403.85" cy="45.16" r="1.70" fill="#92D07E" stroke="none" stroke-width="0.6"/>
<circle cx="405.88" cy="45.35" r="1.70" fill="#92D07E" stroke="none" stroke-width="0.6"/>
<circle cx="407.90" cy="45.55" r="1.70" fill="#92D07E" stroke="none" stroke-width="0.6"/>
<circle cx="409.92" cy="45.75" r="1.70" fill="#92D07E" stroke="none" stroke-width="0.6"/>
<circle cx="411.95" cy="45.94" r="1.70" fill="#92D07E" stroke="none" stroke-width="0.6"/>
<circle cx="413.97" cy="46.14" r="1.70" fill="#92D07E" stroke="none" stroke-width="0.6"/>
<circle cx="416.00" cy="46.34" r="1.70" fill="#92D07E" stroke="none" stroke-width="0.6"/>
<circle cx="418.02" cy="46.54" r="1.70" fill="#92D07E" stroke="none" stroke-width="0.6"/>
<circle cx="420.04" cy="46.94" r="1.70" fill="#92D07E" stroke="none" stroke-width="0.6"/>
<circle cx="422.07" cy="48.97" r="1.70" fill="#92D07E" stroke="none" stroke-width="0.6"/>
<circle cx="424.09" cy="52.63" r="1.70" fill="#92D07E" stroke="none" stroke-width="0.6"/>
<circle cx="426.12" cy="58.32" r="1.70" fill="#92D07E" stroke="none" stroke-width="0.6"/>
<circle cx="428.14" cy="64.85" r="1.70" fill="#92D07E" stroke="none" stroke-width="0.6"/>
<circle cx="430.16" cy="70.95" r="1.70" fill="#92D07E" stroke="none" stroke-width="0.6"/>
<circle cx="432.19" cy="76.59" r="1.70" fill="#92D07E" stroke="none" stroke-width="0.6"/>
<circle cx="434.21" cy="81.97" r="1.70" fill="#92D07E" stroke="none" stroke-width="0.6"/>
<circle cx="436.24" cy="88.24" r="1.70" fill="#92D07E" stroke="none" stroke-width="0.6"/>
<circle cx="438.26" cy="95.92" r="1.70" fill="#92D07E" stroke="none" stroke-width="0.6"/>
<circle cx="440.28" cy="103.38" r="1.70" fill="#92D07E" stroke="none" stroke-width="0.6"/>
<circle cx="442.31" cy="109.92" r="1.70" fill="#92D07E" stroke="none" stroke-width="0.6"/>
<circle cx="444.33" cy="115.49" r="1.70" fill="#92D07E" stroke="none" stroke-width="0.6"/>
<circle cx="446.36" cy="120.13" r="1.70" fill="#92D07E" stroke="none" stroke-width="0.6"/>
<circle cx="448.38" cy="123.84" r="1.70" fill="#92D07E" stroke="none" stroke-width="0.6"/>
<circle cx="450.40" cy="125.60" r="1.70" fill="#92D07E" stroke="none" stroke-width="0.6"/>
<circle cx="452.43" cy="125.77" r="1.70" fill="#92D07E" stroke="none" stroke-width="0.6"/>
<circle cx="454.45" cy="125.79" r="1.70" fill="#92D07E" stroke="none" stroke-width="0.6"/>
<circle cx="456.48" cy="125.80" r="1.70" fill="#92D07E" stroke="none" stroke-width="0.6"/>
<circle cx="458.50" cy="125.82" r="1.70" fill="#92D07E" stroke="none" stroke-width="0.6"/>
<circle cx="460.52" cy="125.84" r="1.70" fill="#92D07E" stroke="none" stroke-width="0.6"/>
<circle cx="462.55" cy="125.86" r="1.70" fill="#92D07E" stroke="none" stroke-width="0.6"/>
<circle cx="464.57" cy="125.88" r="1.70" fill="#92D07E" stroke="none" stroke-width="0.6"/>
<circle cx="466.60" cy="125.90" r="1.70" fill="#92D07E" stroke="none" stroke-width="0.6"/>
<circle cx="468.62" cy="125.92" r="1.70" fill="#92D07E" stroke="none" stroke-width="0.6"/>
<circle cx="470.64" cy="125.94" r="1.70" fill="#92D07E" stroke="none" stroke-width="0.6"/>
<circle cx="472.67" cy="125.95" r="1.70" fill="#92D07E" stroke="none" stroke-width="0.6"/>
<circle cx="474.69" cy="125.97" r="1.70" fill="#92D07E" stroke="none" stroke-width="0.6"/>
<circle cx="476.72" cy="125.99" r="1.70" fill="#92D07E" stroke="none" stroke-width="0.6"/>
<circle cx="478.74" cy="126.01" r="1.70" fill="#92D07E" stroke="none" stroke-width="0.6"/>
<circle cx="480.76" cy="126.03" r="1.70" fill="#92D07E" stroke="none" stroke-width="0.6"/>
<circle cx="482.79" cy="126.05" r="1.70" fill="#92D07E" stroke="none" stroke-width="0.6"/>
<circle cx="484.81" cy="126.07" r="1.70" fill="#92D07E" stroke="none" stroke-width="0.6"/>
<circle cx="486.84" cy="126.09" r="1.70" fill="#92D07E" stroke="none" stroke-width="0.6"/>
<circle cx="488.86" cy="126.10" r="1.70" fill="#92D07E" stroke="none" stroke-width="0.6"/>
<circle cx="490.88" cy="126.12" r="1.70" fill="#92D07E" stroke="none" stroke-width="0.6"/>
<circle cx="492.91" cy="126.14" r="1.70" fill="#92D07E" stroke="none" stroke-width="0.6"/>
<polyline points="387.20,44.34 387.57,44.39 387.94,44.44 388.30,44.50 388.67,44.57 389.04,44.64 389.41,44.72 389.78,44.80 390.14,44.88 390.51,44.96 390.88,45.03 391.25,45.11 391.62,45.19 391.98,45.27 392.35,45.35 392.72,45.43 393.09,45.50 393.46,45.58 393.82,45.66 394.19,45.74 394.56,45.82 394.93,45.90 395.30,45.98 395.66,46.05 396.03,46.13 396.40,46.21 396.77,46.29 397.14,46.37 397.50,46.45 397.87,46.52 398.24,46.60 398.61,46.68 398.98,46.75 399.34,46.82 399.71,46.88 400.08,46.93 400.45,46.98 400.82,47.03 401.18,47.06 401.55,47.10 401.92,47.13 402.29,47.16 402.66,47.19 403.02,47.22 403.39,47.25 403.76,47.28 404.13,47.31 404.50,47.34 404.86,47.37 405.23,47.40 405.60,47.43 405.97,47.46 406.34,47.49 406.70,47.52 407.07,47.55 407.44,47.58 407.81,47.61 408.18,47.64 408.54,47.67 408.91,47.70 409.28,47.73 409.65,47.76 410.02,47.79 410.38,47.82 410.75,47.85 411.12,47.88 411.49,47.90 411.86,47.93 412.22,47.96 412.59,47.99 412.96,48.02 413.33,48.05 413.70,48.08 414.06,48.11 414.43,48.14 414.80,48.17 415.17,48.20 415.54,48.23 415.90,48.26 416.27,48.29 416.64,48.32 417.01,48.37 417.38,48.42 417.74,48.51 418.11,48.62 418.48,48.83 418.85,49.06 419.22,49.40 419.58,49.79 419.95,50.26 420.32,50.76 420.69,51.32 421.06,51.90 421.42,52.53 421.79,53.17 422.16,53.87 422.53,54.58 422.90,55.38 423.26,56.20 423.63,57.10 424.00,58.03 424.37,59.03 424.74,60.09 425.10,61.20 425.47,62.40 425.84,63.62 426.21,64.93 426.58,66.27 426.94,67.69 427.31,69.16 427.68,70.73 428.05,72.35 428.42,74.06 428.78,75.81 429.15,77.58 429.52,79.37 429.89,81.06 430.26,82.76 430.62,84.29 430.99,85.82 431.36,87.20 431.73,88.59 432.10,89.90 432.46,91.21 432.83,92.50 433.20,93.80 433.57,95.10 433.94,96.40 434.30,97.71 434.67,99.03 435.04,100.36 435.41,101.69 435.78,103.05 436.14,104.41 436.51,105.79 436.88,107.19 437.25,108.59 437.62,110.00 437.98,111.42 438.35,112.83 438.72,114.24 439.09,115.59 439.46,116.93 439.82,118.14 440.19,119.34 440.56,120.27 440.93,121.21 441.30,121.83 441.66,122.44 442.03,122.79 442.40,123.14 442.77,123.35 443.14,123.54 443.50,123.66 443.87,123.76 444.24,123.83 444.61,123.89 444.98,123.92 445.34,123.94 445.71,123.95 446.08,123.95 446.45,123.95 446.82,123.96 447.18,123.96 447.55,123.96 447.92,123.96 448.29,123.96 448.66,123.96 449.02,123.96 449.39,123.96 449.76,123.96 450.13,123.96 450.50,123.96 450.86,123.96 451.23,123.96 451.60,123.96 451.97,123.96 452.34,123.96 452.70,123.97 453.07,123.97 453.44,123.97 453.81,123.97 454.18,123.97 454.54,123.97 454.91,123.97 455.28,123.97 455.65,123.97 456.02,123.97 456.38,123.97 456.75,123.97 457.12,123.97 457.49,123.97 457.86,123.97 458.22,123.97 458.59,123.97 458.96,123.98 459.33,123.98 459.70,123.98 460.06,123.98 460.43,123.98 460.80,123.98 461.17,123.98 461.54,123.98 461.90,123.98 462.27,123.98 462.64,123.98 463.01,123.98 463.38,123.98 463.74,123.98 464.11,123.98 464.48,123.98 464.85,123.99 465.22,123.99 465.58,123.99 465.95,123.99 466.32,123.99 466.69,123.99 467.06,123.99 467.42,123.99 467.79,123.99 468.16,123.99 468.53,123.99 468.90,123.99 469.26,123.99 469.63,123.99 470.00,123.99 470.37,123.99 470.74,123.99 471.10,124.00 471.47,124.00 471.84,124.00 472.21,124.00 472.58,124.00 472.94,124.00 473.31,124.00 473.68,124.00 474.05,124.00 474.42,124.00 474.78,124.00 475.15,124.00 475.52,124.00 475.89,124.00 476.26,124.00 476.62,124.00 476.99,124.01 477.36,124.01 477.73,124.01 478.10,124.01 478.46,124.01 478.83,124.01 479.20,124.01 479.57,124.01 479.94,124.01 480.30,124.01 480.67,124.01 481.04,124.01 481.41,124.01 481.78,124.01 482.14,124.01 482.51,124.01 482.88,124.02 483.25,124.02 483.62,124.02 483.98,124.02 484.35,124.02 484.72,124.02 485.09,124.02 485.46,124.02 485.82,124.02 486.19,124.02 486.56,124.02 486.93,124.02 487.30,124.02 487.66,124.02 488.03,124.02 488.40,124.02 488.77,124.02 489.14,124.03 489.50,124.03 489.87,124.03 490.24,124.03 490.61,124.03 490.98,124.03 491.34,124.03 491.71,124.03 492.08,124.03 492.45,124.03 492.82,124.03 493.18,124.03 493.55,124.03 493.92,124.03 494.29,124.03" fill="none" stroke="#9DAEDC" stroke-width="0.8"/>
<path d="M387.66,42.53 L389.53,45.76 L385.79,45.76 Z" fill="#2E4A8C" stroke="none" stroke-width="0.6"/>
<path d="M389.68,42.91 L391.55,46.14 L387.81,46.14 Z" fill="#2E4A8C" stroke="none" stroke-width="0.6"/>
<path d="M391.71,43.34 L393.58,46.57 L389.84,46.57 Z" fill="#2E4A8C" stroke="none" stroke-width="0.6"/>
<path d="M393.73,43.77 L395.60,47.00 L391.86,47.00 Z" fill="#2E4A8C" stroke="none" stroke-width="0.6"/>
<path d="M395.76,44.20 L397.63,47.43 L393.89,47.43 Z" fill="#2E4A8C" stroke="none" stroke-width="0.6"/>
<path d="M397.78,44.63 L399.65,47.86 L395.91,47.86 Z" fill="#2E4A8C" stroke="none" stroke-width="0.6"/>
<path d="M399.80,45.02 L401.67,48.25 L397.93,48.25 Z" fill="#2E4A8C" stroke="none" stroke-width="0.6"/>
<path d="M401.83,45.25 L403.70,48.48 L399.96,48.48 Z" fill="#2E4A8C" stroke="none" stroke-width="0.6"/>
<path d="M403.85,45.42 L405.72,48.65 L401.98,48.65 Z" fill="#2E4A8C" stroke="none" stroke-width="0.6"/>
<path d="M405.88,45.58 L407.75,48.81 L404.01,48.81 Z" fill="#2E4A8C" stroke="none" stroke-width="0.6"/>
<path d="M407.90,45.74 L409.77,48.97 L406.03,48.97 Z" fill="#2E4A8C" stroke="none" stroke-width="0.6"/>
<path d="M409.92,45.91 L411.79,49.14 L408.05,49.14 Z" fill="#2E4A8C" stroke="none" stroke-width="0.6"/>
<path d="M411.95,46.07 L413.82,49.30 L410.08,49.30 Z" fill="#2E4A8C" stroke="none" stroke-width="0.6"/>
<path d="M413.97,46.24 L415.84,49.47 L412.10,49.47 Z" fill="#2E4A8C" stroke="none" stroke-width="0.6"/>
<path d="M416.00,46.40 L417.87,49.63 L414.13,49.63 Z" fill="#2E4A8C" stroke="none" stroke-width="0.6"/>
<path d="M418.02,46.73 L419.89,49.96 L416.15,49.96 Z" fill="#2E4A8C" stroke="none" stroke-width="0.6"/>
<path d="M420.04,48.52 L421.91,51.75 L418.17,51.75 Z" fill="#2E4A8C" stroke="none" stroke-width="0.6"/>
<path d="M422.07,51.83 L423.94,55.06 L420.20,55.06 Z" fill="#2E4A8C" stroke="none" stroke-width="0.6"/>
<path d="M424.09,56.40 L425.96,59.63 L422.22,59.63 Z" fill="#2E4A8C" stroke="none" stroke-width="0.6"/>
<path d="M426.12,62.73 L427.99,65.96 L424.25,65.96 Z" fill="#2E4A8C" stroke="none" stroke-width="0.6"/>
<path d="M428.14,70.91 L430.01,74.14 L426.27,74.14 Z" fill="#2E4A8C" stroke="none" stroke-width="0.6"/>
<path d="M430.16,80.46 L432.03,83.69 L428.29,83.69 Z" fill="#2E4A8C" stroke="none" stroke-width="0.6"/>
<path d="M432.19,88.35 L434.06,91.58 L430.32,91.58 Z" fill="#2E4A8C" stroke="none" stroke-width="0.6"/>
<path d="M434.21,95.51 L436.08,98.74 L432.34,98.74 Z" fill="#2E4A8C" stroke="none" stroke-width="0.6"/>
<path d="M436.24,102.88 L438.11,106.11 L434.37,106.11 Z" fill="#2E4A8C" stroke="none" stroke-width="0.6"/>
<path d="M438.26,110.61 L440.13,113.84 L436.39,113.84 Z" fill="#2E4A8C" stroke="none" stroke-width="0.6"/>
<path d="M440.28,117.70 L442.15,120.93 L438.41,120.93 Z" fill="#2E4A8C" stroke="none" stroke-width="0.6"/>
<path d="M442.31,121.19 L444.18,124.42 L440.44,124.42 Z" fill="#2E4A8C" stroke="none" stroke-width="0.6"/>
<path d="M444.33,121.98 L446.20,125.21 L442.46,125.21 Z" fill="#2E4A8C" stroke="none" stroke-width="0.6"/>
<path d="M446.36,122.08 L448.23,125.31 L444.49,125.31 Z" fill="#2E4A8C" stroke="none" stroke-width="0.6"/>
<path d="M448.38,122.09 L450.25,125.32 L446.51,125.32 Z" fill="#2E4A8C" stroke="none" stroke-width="0.6"/>
<path d="M450.40,122.09 L452.27,125.32 L448.53,125.32 Z" fill="#2E4A8C" stroke="none" stroke-width="0.6"/>
<path d="M452.43,122.09 L454.30,125.32 L450.56,125.32 Z" fill="#2E4A8C" stroke="none" stroke-width="0.6"/>
<path d="M454.45,122.10 L456.32,125.33 L452.58,125.33 Z" fill="#2E4A8C" stroke="none" stroke-width="0.6"/>
<path d="M456.48,122.10 L458.35,125.33 L454.61,125.33 Z" fill="#2E4A8C" stroke="none" stroke-width="0.6"/>
<path d="M458.50,122.10 L460.37,125.33 L456.63,125.33 Z" fill="#2E4A8C" stroke="none" stroke-width="0.6"/>
<path d="M460.52,122.11 L462.39,125.34 L458.65,125.34 Z" fill="#2E4A8C" stroke="none" stroke-width="0.6"/>
<path d="M462.55,122.11 L464.42,125.34 L460.68,125.34 Z" fill="#2E4A8C" stroke="none" stroke-width="0.6"/>
<path d="M464.57,122.11 L466.44,125.34 L462.70,125.34 Z" fill="#2E4A8C" stroke="none" stroke-width="0.6"/>
<path d="M466.60,122.12 L468.47,125.35 L464.73,125.35 Z" fill="#2E4A8C" stroke="none" stroke-width="0.6"/>
<path d="M468.62,122.12 L470.49,125.35 L466.75,125.35 Z" fill="#2E4A8C" stroke="none" stroke-width="0.6"/>
<path d="M470.64,122.12 L472.51,125.35 L468.77,125.35 Z" fill="#2E4A8C" stroke="none" stroke-width="0.6"/>
<path d="M472.67,122.13 L474.54,125.36 L470.80,125.36 Z" fill="#2E4A8C" stroke="none" stroke-width="0.6"/>
<path d="M474.69,122.13 L476.56,125.36 L472.82,125.36 Z" fill="#2E4A8C" stroke="none" stroke-width="0.6"/>
<path d="M476.72,122.13 L478.59,125.36 L474.85,125.36 Z" fill="#2E4A8C" stroke="none" stroke-width="0.6"/>
<path d="M478.74,122.14 L480.61,125.37 L476.87,125.37 Z" fill="#2E4A8C" stroke="none" stroke-width="0.6"/>
<path d="M480.76,122.14 L482.63,125.37 L478.89,125.37 Z" fill="#2E4A8C" stroke="none" stroke-width="0.6"/>
<path d="M482.79,122.14 L484.66,125.37 L480.92,125.37 Z" fill="#2E4A8C" stroke="none" stroke-width="0.6"/>
<path d="M484.81,122.15 L486.68,125.38 L482.94,125.38 Z" fill="#2E4A8C" stroke="none" stroke-width="0.6"/>
<path d="M486.84,122.15 L488.71,125.38 L484.97,125.38 Z" fill="#2E4A8C" stroke="none" stroke-width="0.6"/>
<path d="M488.86,122.15 L490.73,125.38 L486.99,125.38 Z" fill="#2E4A8C" stroke="none" stroke-width="0.6"/>
<path d="M490.88,122.16 L492.75,125.39 L489.01,125.39 Z" fill="#2E4A8C" stroke="none" stroke-width="0.6"/>
<path d="M492.91,122.16 L494.78,125.39 L491.04,125.39 Z" fill="#2E4A8C" stroke="none" stroke-width="0.6"/>
<polyline points="387.20,44.25 387.57,44.26 387.94,44.26 388.30,44.26 388.67,44.27 389.04,44.27 389.41,44.27 389.78,44.28 390.14,44.28 390.51,44.29 390.88,44.29 391.25,44.29 391.62,44.30 391.98,44.30 392.35,44.30 392.72,44.31 393.09,44.31 393.46,44.32 393.82,44.32 394.19,44.32 394.56,44.33 394.93,44.33 395.30,44.34 395.66,44.34 396.03,44.34 396.40,44.35 396.77,44.35 397.14,44.36 397.50,44.36 397.87,44.36 398.24,44.37 398.61,44.37 398.98,44.37 399.34,44.38 399.71,44.38 400.08,44.39 400.45,44.39 400.82,44.39 401.18,44.40 401.55,44.40 401.92,44.41 402.29,44.41 402.66,44.42 403.02,44.43 403.39,44.44 403.76,44.46 404.13,44.48 404.50,44.50 404.86,44.52 405.23,44.54 405.60,44.56 405.97,44.58 406.34,44.60 406.70,44.63 407.07,44.65 407.44,44.67 407.81,44.69 408.18,44.71 408.54,44.74 408.91,44.76 409.28,44.78 409.65,44.80 410.02,44.82 410.38,44.85 410.75,44.87 411.12,44.89 411.49,44.91 411.86,44.94 412.22,44.96 412.59,44.98 412.96,45.00 413.33,45.02 413.70,45.05 414.06,45.07 414.43,45.09 414.80,45.11 415.17,45.13 415.54,45.16 415.90,45.18 416.27,45.20 416.64,45.22 417.01,45.24 417.38,45.27 417.74,45.29 418.11,45.31 418.48,45.33 418.85,45.36 419.22,45.38 419.58,45.40 419.95,45.44 420.32,45.48 420.69,45.55 421.06,45.64 421.42,45.77 421.79,45.94 422.16,46.18 422.53,46.46 422.90,46.79 423.26,47.19 423.63,47.63 424.00,48.13 424.37,48.67 424.74,49.25 425.10,49.86 425.47,50.50 425.84,51.15 426.21,51.82 426.58,52.50 426.94,53.19 427.31,53.90 427.68,54.62 428.05,55.38 428.42,56.19 428.78,57.05 429.15,58.02 429.52,59.04 429.89,60.20 430.26,61.41 430.62,62.71 430.99,64.03 431.36,65.38 431.73,66.74 432.10,68.08 432.46,69.41 432.83,70.70 433.20,71.97 433.57,73.21 433.94,74.40 434.30,75.57 434.67,76.69 435.04,77.80 435.41,78.86 435.78,79.92 436.14,80.96 436.51,82.01 436.88,83.07 437.25,84.13 437.62,85.22 437.98,86.31 438.35,87.42 438.72,88.55 439.09,89.69 439.46,90.85 439.82,92.02 440.19,93.21 440.56,94.43 440.93,95.66 441.30,96.91 441.66,98.18 442.03,99.45 442.40,100.71 442.77,101.97 443.14,103.20 443.50,104.42 443.87,105.60 444.24,106.78 444.61,107.91 444.98,109.05 445.34,110.16 445.71,111.26 446.08,112.32 446.45,113.34 446.82,114.31 447.18,115.22 447.55,116.05 447.92,116.80 448.29,117.48 448.66,118.09 449.02,118.63 449.39,119.12 449.76,119.51 450.13,119.86 450.50,120.10 450.86,120.30 451.23,120.41 451.60,120.49 451.97,120.53 452.34,120.56 452.70,120.56 453.07,120.57 453.44,120.57 453.81,120.57 454.18,120.57 454.54,120.58 454.91,120.58 455.28,120.58 455.65,120.59 456.02,120.59 456.38,120.59 456.75,120.59 457.12,120.60 457.49,120.60 457.86,120.60 458.22,120.60 458.59,120.61 458.96,120.61 459.33,120.61 459.70,120.62 460.06,120.62 460.43,120.62 460.80,120.62 461.17,120.63 461.54,120.63 461.90,120.63 462.27,120.64 462.64,120.64 463.01,120.64 463.38,120.64 463.74,120.65 464.11,120.65 464.48,120.65 464.85,120.65 465.22,120.66 465.58,120.66 465.95,120.66 466.32,120.67 466.69,120.67 467.06,120.67 467.42,120.67 467.79,120.68 468.16,120.68 468.53,120.68 468.90,120.69 469.26,120.69 469.63,120.69 470.00,120.69 470.37,120.70 470.74,120.70 471.10,120.70 471.47,120.70 471.84,120.71 472.21,120.71 472.58,120.71 472.94,120.72 473.31,120.72 473.68,120.72 474.05,120.72 474.42,120.73 474.78,120.73 475.15,120.73 475.52,120.74 475.89,120.74 476.26,120.74 476.62,120.74 476.99,120.75 477.36,120.75 477.73,120.75 478.10,120.76 478.46,120.76 478.83,120.76 479.20,120.76 479.57,120.77 479.94,120.77 480.30,120.77 480.67,120.77 481.04,120.78 481.41,120.78 481.78,120.78 482.14,120.79 482.51,120.79 482.88,120.79 483.25,120.79 483.62,120.80 483.98,120.80 484.35,120.80 484.72,120.81 485.09,120.81 485.46,120.81 485.82,120.81 486.19,120.82 486.56,120.82 486.93,120.82 487.30,120.82 487.66,120.83 488.03,120.83 488.40,120.83 488.77,120.84 489.14,120.84 489.50,120.84 489.87,120.84 490.24,120.85 490.61,120.85 490.98,120.85 491.34,120.86 491.71,120.86 492.08,120.86 492.45,120.86 492.82,120.87 493.18,120.87 493.55,120.87 493.92,120.87 494.29,120.88" fill="none" stroke="#F8CC60" stroke-width="0.8"/>
<path d="M387.66,46.13 L389.53,42.90 L385.79,42.90 Z" fill="#F5B800" stroke="none" stroke-width="0.6"/>
<path d="M389.68,46.15 L391.55,42.92 L387.81,42.92 Z" fill="#F5B800" stroke="none" stroke-width="0.6"/>
<path d="M391.71,46.17 L393.58,42.94 L389.84,42.94 Z" fill="#F5B800" stroke="none" stroke-width="0.6"/>
<path d="M393.73,46.19 L395.60,42.96 L391.86,42.96 Z" fill="#F5B800" stroke="none" stroke-width="0.6"/>
<path d="M395.76,46.21 L397.63,42.98 L393.89,42.98 Z" fill="#F5B800" stroke="none" stroke-width="0.6"/>
<path d="M397.78,46.23 L399.65,43.00 L395.91,43.00 Z" fill="#F5B800" stroke="none" stroke-width="0.6"/>
<path d="M399.80,46.25 L401.67,43.02 L397.93,43.02 Z" fill="#F5B800" stroke="none" stroke-width="0.6"/>
<path d="M401.83,46.28 L403.70,43.05 L399.96,43.05 Z" fill="#F5B800" stroke="none" stroke-width="0.6"/>
<path d="M403.85,46.33 L405.72,43.10 L401.98,43.10 Z" fill="#F5B800" stroke="none" stroke-width="0.6"/>
<path d="M405.88,46.45 L407.75,43.22 L404.01,43.22 Z" fill="#F5B800" stroke="none" stroke-width="0.6"/>
<path d="M407.90,46.57 L409.77,43.34 L406.03,43.34 Z" fill="#F5B800" stroke="none" stroke-width="0.6"/>
<path d="M409.92,46.69 L411.79,43.46 L408.05,43.46 Z" fill="#F5B800" stroke="none" stroke-width="0.6"/>
<path d="M411.95,46.81 L413.82,43.58 L410.08,43.58 Z" fill="#F5B800" stroke="none" stroke-width="0.6"/>
<path d="M413.97,46.93 L415.84,43.70 L412.10,43.70 Z" fill="#F5B800" stroke="none" stroke-width="0.6"/>
<path d="M416.00,47.05 L417.87,43.82 L414.13,43.82 Z" fill="#F5B800" stroke="none" stroke-width="0.6"/>
<path d="M418.02,47.18 L419.89,43.95 L416.15,43.95 Z" fill="#F5B800" stroke="none" stroke-width="0.6"/>
<path d="M420.04,47.32 L421.91,44.09 L418.17,44.09 Z" fill="#F5B800" stroke="none" stroke-width="0.6"/>
<path d="M422.07,47.99 L423.94,44.76 L420.20,44.76 Z" fill="#F5B800" stroke="none" stroke-width="0.6"/>
<path d="M424.09,50.14 L425.96,46.91 L422.22,46.91 Z" fill="#F5B800" stroke="none" stroke-width="0.6"/>
<path d="M426.12,53.52 L427.99,50.29 L424.25,50.29 Z" fill="#F5B800" stroke="none" stroke-width="0.6"/>
<path d="M428.14,57.45 L430.01,54.22 L426.27,54.22 Z" fill="#F5B800" stroke="none" stroke-width="0.6"/>
<path d="M430.16,62.95 L432.03,59.72 L428.29,59.72 Z" fill="#F5B800" stroke="none" stroke-width="0.6"/>
<path d="M432.19,70.28 L434.06,67.05 L430.32,67.05 Z" fill="#F5B800" stroke="none" stroke-width="0.6"/>
<path d="M434.21,77.16 L436.08,73.93 L432.34,73.93 Z" fill="#F5B800" stroke="none" stroke-width="0.6"/>
<path d="M436.24,83.10 L438.11,79.87 L434.37,79.87 Z" fill="#F5B800" stroke="none" stroke-width="0.6"/>
<path d="M438.26,89.01 L440.13,85.78 L436.39,85.78 Z" fill="#F5B800" stroke="none" stroke-width="0.6"/>
<path d="M440.28,95.38 L442.15,92.15 L438.41,92.15 Z" fill="#F5B800" stroke="none" stroke-width="0.6"/>
<path d="M442.31,102.26 L444.18,99.03 L440.44,99.03 Z" fill="#F5B800" stroke="none" stroke-width="0.6"/>
<path d="M444.33,108.93 L446.20,105.70 L442.46,105.70 Z" fill="#F5B800" stroke="none" stroke-width="0.6"/>
<path d="M446.36,114.96 L448.23,111.73 L444.49,111.73 Z" fill="#F5B800" stroke="none" stroke-width="0.6"/>
<path d="M448.38,119.50 L450.25,116.27 L446.51,116.27 Z" fill="#F5B800" stroke="none" stroke-width="0.6"/>
<path d="M450.40,121.92 L452.27,118.69 L448.53,118.69 Z" fill="#F5B800" stroke="none" stroke-width="0.6"/>
<path d="M452.43,122.43 L454.30,119.20 L450.56,119.20 Z" fill="#F5B800" stroke="none" stroke-width="0.6"/>
<path d="M454.45,122.45 L456.32,119.22 L452.58,119.22 Z" fill="#F5B800" stroke="none" stroke-width="0.6"/>
<path d="M456.48,122.46 L458.35,119.23 L454.61,119.23 Z" fill="#F5B800" stroke="none" stroke-width="0.6"/>
<path d="M458.50,122.48 L460.37,119.25 L456.63,119.25 Z" fill="#F5B800" stroke="none" stroke-width="0.6"/>
<path d="M460.52,122.49 L462.39,119.26 L458.65,119.26 Z" fill="#F5B800" stroke="none" stroke-width="0.6"/>
<path d="M462.55,122.51 L464.42,119.28 L460.68,119.28 Z" fill="#F5B800" stroke="none" stroke-width="0.6"/>
<path d="M464.57,122.52 L466.44,119.29 L462.70,119.29 Z" fill="#F5B800" stroke="none" stroke-width="0.6"/>
<path d="M466.60,122.54 L468.47,119.31 L464.73,119.31 Z" fill="#F5B800" stroke="none" stroke-width="0.6"/>
<path d="M468.62,122.55 L470.49,119.32 L466.75,119.32 Z" fill="#F5B800" stroke="none" stroke-width="0.6"/>
<path d="M470.64,122.57 L472.51,119.34 L468.77,119.34 Z" fill="#F5B800" stroke="none" stroke-width="0.6"/>
<path d="M472.67,122.58 L474.54,119.35 L470.80,119.35 Z" fill="#F5B800" stroke="none" stroke-width="0.6"/>
<path d="M474.69,122.60 L476.56,119.37 L472.82,119.37 Z" fill="#F5B800" stroke="none" stroke-width="0.6"/>
<path d="M476.72,122.61 L478.59,119.38 L474.85,119.38 Z" fill="#F5B800" stroke="none" stroke-width="0.6"/>
<path d="M478.74,122.63 L480.61,119.40 L476.87,119.40 Z" fill="#F5B800" stroke="none" stroke-width="0.6"/>
<path d="M480.76,122.65 L482.63,119.42 L478.89,119.42 Z" fill="#F5B800" stroke="none" stroke-width="0.6"/>
<path d="M482.79,122.66 L484.66,119.43 L480.92,119.43 Z" fill="#F5B800" stroke="none" stroke-width="0.6"/>
<path d="M484.81,122.68 L486.68,119.45 L482.94,119.45 Z" fill="#F5B800" stroke="none" stroke-width="0.6"/>
<path d="M486.84,122.69 L488.71,119.46 L484.97,119.46 Z" fill="#F5B800" stroke="none" stroke-width="0.6"/>
<path d="M488.86,122.71 L490.73,119.48 L486.99,119.48 Z" fill="#F5B800" stroke="none" stroke-width="0.6"/>
<path d="M490.88,122.72 L492.75,119.49 L489.01,119.49 Z" fill="#F5B800" stroke="none" stroke-width="0.6"/>
<path d="M492.91,122.74 L494.78,119.51 L491.04,119.51 Z" fill="#F5B800" stroke="none" stroke-width="0.6"/>
<polyline points="387.20,44.34 387.57,44.40 387.94,44.45 388.30,44.53 388.67,44.60 389.04,44.68 389.41,44.76 389.78,44.85 390.14,44.94 390.51,45.02 390.88,45.11 391.25,45.19 391.62,45.28 391.98,45.36 392.35,45.45 392.72,45.54 393.09,45.62 393.46,45.71 393.82,45.79 394.19,45.88 394.56,45.97 394.93,46.05 395.30,46.14 395.66,46.22 396.03,46.31 396.40,46.39 396.77,46.48 397.14,46.57 397.50,46.65 397.87,46.74 398.24,46.82 398.61,46.90 398.98,46.98 399.34,47.05 399.71,47.12 400.08,47.18 400.45,47.22 400.82,47.27 401.18,47.30 401.55,47.33 401.92,47.36 402.29,47.39 402.66,47.41 403.02,47.43 403.39,47.46 403.76,47.48 404.13,47.51 404.50,47.53 404.86,47.56 405.23,47.58 405.60,47.61 405.97,47.63 406.34,47.66 406.70,47.68 407.07,47.71 407.44,47.73 407.81,47.76 408.18,47.78 408.54,47.81 408.91,47.83 409.28,47.86 409.65,47.88 410.02,47.91 410.38,47.93 410.75,47.96 411.12,47.98 411.49,48.01 411.86,48.03 412.22,48.05 412.59,48.08 412.96,48.10 413.33,48.13 413.70,48.15 414.06,48.18 414.43,48.20 414.80,48.23 415.17,48.25 415.54,48.28 415.90,48.30 416.27,48.33 416.64,48.35 417.01,48.39 417.38,48.43 417.74,48.51 418.11,48.60 418.48,48.77 418.85,48.96 419.22,49.24 419.58,49.55 419.95,49.94 420.32,50.35 420.69,50.79 421.06,51.25 421.42,51.74 421.79,52.25 422.16,52.79 422.53,53.41 422.90,54.09 423.26,54.93 423.63,55.84 424.00,56.95 424.37,58.12 424.74,59.45 425.10,60.80 425.47,62.24 425.84,63.69 426.21,65.17 426.58,66.65 426.94,68.13 427.31,69.61 427.68,71.09 428.05,72.56 428.42,74.02 428.78,75.44 429.15,76.85 429.52,78.22 429.89,79.57 430.26,80.89 430.62,82.18 430.99,83.46 431.36,84.73 431.73,85.98 432.10,87.22 432.46,88.45 432.83,89.66 433.20,90.86 433.57,92.04 433.94,93.22 434.30,94.39 434.67,95.56 435.04,96.73 435.41,97.90 435.78,99.07 436.14,100.25 436.51,101.43 436.88,102.62 437.25,103.80 437.62,104.99 437.98,106.16 438.35,107.29 438.72,108.38 439.09,109.39 439.46,110.32 439.82,111.15 440.19,111.89 440.56,112.54 440.93,113.09 441.30,113.60 441.66,114.02 442.03,114.43 442.40,114.72 442.77,115.01 443.14,115.18 443.50,115.35 443.87,115.42 444.24,115.49 444.61,115.50 444.98,115.52 445.34,115.52 445.71,115.52 446.08,115.52 446.45,115.52 446.82,115.52 447.18,115.52 447.55,115.52 447.92,115.52 448.29,115.52 448.66,115.52 449.02,115.52 449.39,115.52 449.76,115.52 450.13,115.52 450.50,115.52 450.86,115.52 451.23,115.52 451.60,115.52 451.97,115.52 452.34,115.52 452.70,115.52 453.07,115.52 453.44,115.52 453.81,115.52 454.18,115.52 454.54,115.52 454.91,115.52 455.28,115.52 455.65,115.52 456.02,115.52 456.38,115.52 456.75,115.52 457.12,115.52 457.49,115.52 457.86,115.52 458.22,115.52 458.59,115.52 458.96,115.52 459.33,115.52 459.70,115.52 460.06,115.52 460.43,115.52 460.80,115.52 461.17,115.52 461.54,115.52 461.90,115.52 462.27,115.52 462.64,115.52 463.01,115.52 463.38,115.52 463.74,115.52 464.11,115.52 464.48,115.52 464.85,115.52 465.22,115.52 465.58,115.52 465.95,115.52 466.32,115.52 466.69,115.52 467.06,115.52 467.42,115.52 467.79,115.52 468.16,115.52 468.53,115.52 468.90,115.52 469.26,115.52 469.63,115.52 470.00,115.52 470.37,115.52 470.74,115.52 471.10,115.52 471.47,115.52 471.84,115.52 472.21,115.52 472.58,115.52 472.94,115.52 473.31,115.52 473.68,115.52 474.05,115.52 474.42,115.52 474.78,115.52 475.15,115.52 475.52,115.52 475.89,115.52 476.26,115.52 476.62,115.52 476.99,115.52 477.36,115.52 477.73,115.52 478.10,115.52 478.46,115.52 478.83,115.52 479.20,115.52 479.57,115.52 479.94,115.52 480.30,115.52 480.67,115.52 481.04,115.52 481.41,115.52 481.78,115.52 482.14,115.52 482.51,115.52 482.88,115.52 483.25,115.52 483.62,115.52 483.98,115.52 484.35,115.52 484.72,115.52 485.09,115.52 485.46,115.52 485.82,115.52 486.19,115.52 486.56,115.52 486.93,115.52 487.30,115.52 487.66,115.52 488.03,115.52 488.40,115.52 488.77,115.52 489.14,115.52 489.50,115.52 489.87,115.52 490.24,115.52 490.61,115.52 490.98,115.52 491.34,115.52 491.71,115.52 492.08,115.52 492.45,115.52 492.82,115.52 493.18,115.52 493.55,115.52 493.92,115.52 494.29,115.52" fill="none" stroke="#B5B5B5" stroke-width="0.8"/>
<path d="M387.66,42.37 L389.70,44.41 L387.66,46.45 L385.62,44.41 Z" fill="#9A9A9A" stroke="none" stroke-width="0.6"/>
<path d="M389.68,42.79 L391.72,44.83 L389.68,46.87 L387.64,44.83 Z" fill="#9A9A9A" stroke="none" stroke-width="0.6"/>
<path d="M391.71,43.26 L393.75,45.30 L391.71,47.34 L389.67,45.30 Z" fill="#9A9A9A" stroke="none" stroke-width="0.6"/>
<path d="M393.73,43.73 L395.77,45.77 L393.73,47.81 L391.69,45.77 Z" fill="#9A9A9A" stroke="none" stroke-width="0.6"/>
<path d="M395.76,44.20 L397.80,46.24 L395.76,48.28 L393.72,46.24 Z" fill="#9A9A9A" stroke="none" stroke-width="0.6"/>
<path d="M397.78,44.68 L399.82,46.72 L397.78,48.76 L395.74,46.72 Z" fill="#9A9A9A" stroke="none" stroke-width="0.6"/>
<path d="M399.80,45.09 L401.84,47.13 L399.80,49.17 L397.76,47.13 Z" fill="#9A9A9A" stroke="none" stroke-width="0.6"/>
<path d="M401.83,45.31 L403.87,47.35 L401.83,49.39 L399.79,47.35 Z" fill="#9A9A9A" stroke="none" stroke-width="0.6"/>
<path d="M403.85,45.45 L405.89,47.49 L403.85,49.53 L401.81,47.49 Z" fill="#9A9A9A" stroke="none" stroke-width="0.6"/>
<path d="M405.88,45.59 L407.92,47.63 L405.88,49.67 L403.84,47.63 Z" fill="#9A9A9A" stroke="none" stroke-width="0.6"/>
<path d="M407.90,45.72 L409.94,47.76 L407.90,49.80 L405.86,47.76 Z" fill="#9A9A9A" stroke="none" stroke-width="0.6"/>
<path d="M409.92,45.86 L411.96,47.90 L409.92,49.94 L407.88,47.90 Z" fill="#9A9A9A" stroke="none" stroke-width="0.6"/>
<path d="M411.95,46.00 L413.99,48.04 L411.95,50.08 L409.91,48.04 Z" fill="#9A9A9A" stroke="none" stroke-width="0.6"/>
<path d="M413.97,46.13 L416.01,48.17 L413.97,50.21 L411.93,48.17 Z" fill="#9A9A9A" stroke="none" stroke-width="0.6"/>
<path d="M416.00,46.27 L418.04,48.31 L416.00,50.35 L413.96,48.31 Z" fill="#9A9A9A" stroke="none" stroke-width="0.6"/>
<path d="M418.02,46.54 L420.06,48.58 L418.02,50.62 L415.98,48.58 Z" fill="#9A9A9A" stroke="none" stroke-width="0.6"/>
<path d="M420.04,48.00 L422.08,50.04 L420.04,52.08 L418.00,50.04 Z" fill="#9A9A9A" stroke="none" stroke-width="0.6"/>
<path d="M422.07,50.59 L424.11,52.63 L422.07,54.67 L420.03,52.63 Z" fill="#9A9A9A" stroke="none" stroke-width="0.6"/>
<path d="M424.09,55.19 L426.13,57.23 L424.09,59.27 L422.05,57.23 Z" fill="#9A9A9A" stroke="none" stroke-width="0.6"/>
<path d="M426.12,62.76 L428.16,64.80 L426.12,66.84 L424.08,64.80 Z" fill="#9A9A9A" stroke="none" stroke-width="0.6"/>
<path d="M428.14,70.88 L430.18,72.92 L428.14,74.96 L426.10,72.92 Z" fill="#9A9A9A" stroke="none" stroke-width="0.6"/>
<path d="M430.16,78.52 L432.20,80.56 L430.16,82.60 L428.12,80.56 Z" fill="#9A9A9A" stroke="none" stroke-width="0.6"/>
<path d="M432.19,85.48 L434.23,87.52 L432.19,89.56 L430.15,87.52 Z" fill="#9A9A9A" stroke="none" stroke-width="0.6"/>
<path d="M434.21,92.06 L436.25,94.10 L434.21,96.14 L432.17,94.10 Z" fill="#9A9A9A" stroke="none" stroke-width="0.6"/>
<path d="M436.24,98.50 L438.28,100.54 L436.24,102.58 L434.20,100.54 Z" fill="#9A9A9A" stroke="none" stroke-width="0.6"/>
<path d="M438.26,104.98 L440.30,107.02 L438.26,109.06 L436.22,107.02 Z" fill="#9A9A9A" stroke="none" stroke-width="0.6"/>
<path d="M440.28,110.03 L442.32,112.07 L440.28,114.11 L438.24,112.07 Z" fill="#9A9A9A" stroke="none" stroke-width="0.6"/>
<path d="M442.31,112.61 L444.35,114.65 L442.31,116.69 L440.27,114.65 Z" fill="#9A9A9A" stroke="none" stroke-width="0.6"/>
<path d="M444.33,113.45 L446.37,115.49 L444.33,117.53 L442.29,115.49 Z" fill="#9A9A9A" stroke="none" stroke-width="0.6"/>
<path d="M446.36,113.48 L448.40,115.52 L446.36,117.56 L444.32,115.52 Z" fill="#9A9A9A" stroke="none" stroke-width="0.6"/>
<path d="M448.38,113.48 L450.42,115.52 L448.38,117.56 L446.34,115.52 Z" fill="#9A9A9A" stroke="none" stroke-width="0.6"/>
<path d="M450.40,113.48 L452.44,115.52 L450.40,117.56 L448.36,115.52 Z" fill="#9A9A9A" stroke="none" stroke-width="0.6"/>
<path d="M452.43,113.48 L454.47,115.52 L452.43,117.56 L450.39,115.52 Z" fill="#9A9A9A" stroke="none" stroke-width="0.6"/>
<path d="M454.45,113.48 L456.49,115.52 L454.45,117.56 L452.41,115.52 Z" fill="#9A9A9A" stroke="none" stroke-width="0.6"/>
<path d="M456.48,113.48 L458.52,115.52 L456.48,117.56 L454.44,115.52 Z" fill="#9A9A9A" stroke="none" stroke-width="0.6"/>
<path d="M458.50,113.48 L460.54,115.52 L458.50,117.56 L456.46,115.52 Z" fill="#9A9A9A" stroke="none" stroke-width="0.6"/>
<path d="M460.52,113.48 L462.56,115.52 L460.52,117.56 L458.48,115.52 Z" fill="#9A9A9A" stroke="none" stroke-width="0.6"/>
<path d="M462.55,113.48 L464.59,115.52 L462.55,117.56 L460.51,115.52 Z" fill="#9A9A9A" stroke="none" stroke-width="0.6"/>
<path d="M464.57,113.48 L466.61,115.52 L464.57,117.56 L462.53,115.52 Z" fill="#9A9A9A" stroke="none" stroke-width="0.6"/>
<path d="M466.60,113.48 L468.64,115.52 L466.60,117.56 L464.56,115.52 Z" fill="#9A9A9A" stroke="none" stroke-width="0.6"/>
<path d="M468.62,113.48 L470.66,115.52 L468.62,117.56 L466.58,115.52 Z" fill="#9A9A9A" stroke="none" stroke-width="0.6"/>
<path d="M470.64,113.48 L472.68,115.52 L470.64,117.56 L468.60,115.52 Z" fill="#9A9A9A" stroke="none" stroke-width="0.6"/>
<path d="M472.67,113.48 L474.71,115.52 L472.67,117.56 L470.63,115.52 Z" fill="#9A9A9A" stroke="none" stroke-width="0.6"/>
<path d="M474.69,113.48 L476.73,115.52 L474.69,117.56 L472.65,115.52 Z" fill="#9A9A9A" stroke="none" stroke-width="0.6"/>
<path d="M476.72,113.48 L478.76,115.52 L476.72,117.56 L474.68,115.52 Z" fill="#9A9A9A" stroke="none" stroke-width="0.6"/>
<path d="M478.74,113.48 L480.78,115.52 L478.74,117.56 L476.70,115.52 Z" fill="#9A9A9A" stroke="none" stroke-width="0.6"/>
<path d="M480.76,113.48 L482.80,115.52 L480.76,117.56 L478.72,115.52 Z" fill="#9A9A9A" stroke="none" stroke-width="0.6"/>
<path d="M482.79,113.48 L484.83,115.52 L482.79,117.56 L480.75,115.52 Z" fill="#9A9A9A" stroke="none" stroke-width="0.6"/>
<path d="M484.81,113.48 L486.85,115.52 L484.81,117.56 L482.77,115.52 Z" fill="#9A9A9A" stroke="none" stroke-width="0.6"/>
<path d="M486.84,113.48 L488.88,115.52 L486.84,117.56 L484.80,115.52 Z" fill="#9A9A9A" stroke="none" stroke-width="0.6"/>
<path d="M488.86,113.48 L490.90,115.52 L488.86,117.56 L486.82,115.52 Z" fill="#9A9A9A" stroke="none" stroke-width="0.6"/>
<path d="M490.88,113.48 L492.92,115.52 L490.88,117.56 L488.84,115.52 Z" fill="#9A9A9A" stroke="none" stroke-width="0.6"/>
<path d="M492.91,113.48 L494.95,115.52 L492.91,117.56 L490.87,115.52 Z" fill="#9A9A9A" stroke="none" stroke-width="0.6"/>
<rect x="384.50" y="36.20" width="117.00" height="93.20" fill="none" stroke="#333" stroke-width="0.8"/>
<line x1="382.50" y1="129.40" x2="384.50" y2="129.40" stroke="#333" stroke-width="0.7"/>
<text x="381.20" y="132.30" font-size="8.1" text-anchor="end" fill="#111">0</text>
<line x1="382.50" y1="108.11" x2="384.50" y2="108.11" stroke="#333" stroke-width="0.7"/>
<text x="381.20" y="111.01" font-size="8.1" text-anchor="end" fill="#111">25</text>
<line x1="382.50" y1="86.83" x2="384.50" y2="86.83" stroke="#333" stroke-width="0.7"/>
<text x="381.20" y="89.73" font-size="8.1" text-anchor="end" fill="#111">50</text>
<line x1="382.50" y1="65.54" x2="384.50" y2="65.54" stroke="#333" stroke-width="0.7"/>
<text x="381.20" y="68.44" font-size="8.1" text-anchor="end" fill="#111">75</text>
<line x1="382.50" y1="44.25" x2="384.50" y2="44.25" stroke="#333" stroke-width="0.7"/>
<text x="381.20" y="47.15" font-size="8.1" text-anchor="end" fill="#111">100</text>
<line x1="384.60" y1="129.40" x2="384.60" y2="131.40" stroke="#333" stroke-width="0.7"/>
<text x="384.60" y="138.90" font-size="8.1" text-anchor="middle" fill="#111">0</text>
<line x1="411.60" y1="129.40" x2="411.60" y2="131.40" stroke="#333" stroke-width="0.7"/>
<text x="411.60" y="138.90" font-size="8.1" text-anchor="middle" fill="#111">300</text>
<line x1="438.60" y1="129.40" x2="438.60" y2="131.40" stroke="#333" stroke-width="0.7"/>
<text x="438.60" y="138.90" font-size="8.1" text-anchor="middle" fill="#111">600</text>
<line x1="465.60" y1="129.40" x2="465.60" y2="131.40" stroke="#333" stroke-width="0.7"/>
<text x="465.60" y="138.90" font-size="8.1" text-anchor="middle" fill="#111">900</text>
<line x1="492.60" y1="129.40" x2="492.60" y2="131.40" stroke="#333" stroke-width="0.7"/>
<text x="492.60" y="138.90" font-size="8.1" text-anchor="middle" fill="#111">1200</text>
<text x="443.10" y="154.30" font-size="10.8" font-weight="bold" text-anchor="middle" fill="#000">Temperature (°C)</text>
<text x="367.60" y="83.30" font-size="10.8" font-weight="bold" text-anchor="middle" fill="#000" transform="rotate(-90 367.60 83.30)">Mass (%)</text>
<line x1="386.60" y1="84.90" x2="403.50" y2="84.90" stroke="#7FAAD2" stroke-width="0.9"/>
<rect x="392.55" y="82.75" width="4.30" height="4.30" fill="#4A86BE" stroke="none" stroke-width="0.6"/>
<text x="405.70" y="87.90" font-size="8.2" text-anchor="start" fill="#111">260°C</text>
<line x1="386.60" y1="94.80" x2="403.50" y2="94.80" stroke="#B5E0A5" stroke-width="0.9"/>
<circle cx="394.70" cy="94.80" r="2.15" fill="#92D07E" stroke="none" stroke-width="0.6"/>
<text x="405.70" y="97.80" font-size="8.2" text-anchor="start" fill="#111">280°C</text>
<line x1="386.60" y1="104.70" x2="403.50" y2="104.70" stroke="#9DAEDC" stroke-width="0.9"/>
<path d="M394.70,102.34 L397.06,106.42 L392.33,106.42 Z" fill="#2E4A8C" stroke="none" stroke-width="0.6"/>
<text x="405.70" y="107.70" font-size="8.2" text-anchor="start" fill="#111">300°C</text>
<line x1="386.60" y1="114.60" x2="403.50" y2="114.60" stroke="#F8CC60" stroke-width="0.9"/>
<path d="M394.70,116.97 L397.06,112.88 L392.33,112.88 Z" fill="#F5B800" stroke="none" stroke-width="0.6"/>
<text x="405.70" y="117.60" font-size="8.2" text-anchor="start" fill="#111">320°C</text>
<line x1="386.60" y1="124.50" x2="403.50" y2="124.50" stroke="#B5B5B5" stroke-width="0.9"/>
<path d="M394.70,121.92 L397.28,124.50 L394.70,127.08 L392.12,124.50 Z" fill="#9A9A9A" stroke="none" stroke-width="0.6"/>
<text x="405.70" y="127.50" font-size="8.2" text-anchor="start" fill="#111">VD300°C</text>
<rect x="447.30" y="36.20" width="54.20" height="55.05" fill="#fff" stroke="none" stroke-width="0.6"/>
<polyline points="447.50,52.00 447.72,51.53 447.94,50.92 448.17,50.24 448.39,49.56 448.61,48.87 448.83,48.19 449.06,47.56 449.28,47.05 449.50,46.73 449.73,46.53 449.95,46.37 450.17,46.23 450.39,46.08 450.62,45.93 450.84,45.79 451.06,45.64 451.28,45.50 451.50,45.35 451.73,45.20 451.95,45.06 452.17,44.91 452.39,44.79 452.62,44.71 452.84,44.70 453.06,44.74 453.29,44.79 453.51,44.85 453.73,44.91 453.95,44.96 454.18,45.02 454.40,45.08 454.62,45.14 454.84,45.20 455.06,45.25 455.29,45.31 455.51,45.37 455.73,45.43 455.95,45.48 456.18,45.54 456.40,45.60 456.62,45.67 456.85,45.75 457.07,45.86 457.29,45.99 457.51,46.13 457.74,46.26 457.96,46.40 458.18,46.54 458.40,46.68 458.62,46.81 458.85,46.95 459.07,47.09 459.29,47.22 459.51,47.36 459.74,47.50 459.96,47.64 460.18,47.77 460.40,47.91 460.63,48.05 460.85,48.18 461.07,48.32 461.30,48.46 461.52,48.60 461.74,48.74 461.96,48.91 462.19,49.14 462.41,49.48 462.63,49.89 462.85,50.32 463.07,50.76 463.30,51.20 463.52,51.64 463.74,52.08 463.96,52.53 464.19,53.06 464.41,53.77 464.63,54.78 464.86,55.97 465.08,57.24 465.30,58.53 465.52,59.93 465.75,61.55 465.97,63.56 466.19,65.80 466.41,68.14 466.63,70.44 466.86,72.48 467.08,74.05 467.30,75.15 467.52,75.95 467.75,76.66 467.97,77.37 468.19,78.04 468.42,78.60 468.64,78.95 468.86,79.11 469.08,79.16 469.31,79.19 469.53,79.22 469.75,79.25 469.97,79.29 470.19,79.32 470.42,79.35 470.64,79.38 470.86,79.41 471.08,79.44 471.31,79.47 471.53,79.47 471.75,79.45 471.98,79.39 472.20,79.32 472.42,79.25 472.64,79.17 472.87,79.09 473.09,79.02 473.31,78.94 473.53,78.87 473.75,78.79 473.98,78.68 474.20,78.49 474.42,78.19 474.64,77.81 474.87,77.41 475.09,76.99 475.31,76.58 475.54,76.16 475.76,75.70 475.98,75.13 476.20,74.38 476.43,73.53 476.65,72.53 476.87,70.95 477.09,68.40 477.31,64.83 477.54,60.67 477.76,56.63 477.98,53.42 478.20,51.51 478.43,50.84 478.65,50.62 478.87,50.49 479.10,50.36 479.32,50.24 479.54,50.13 479.76,50.05 479.99,49.98 480.21,49.91 480.43,49.85 480.65,49.78 480.88,49.72 481.10,49.66 481.32,49.59 481.54,49.53 481.76,49.46 481.99,49.40 482.21,49.34 482.43,49.27 482.65,49.21 482.88,49.14 483.10,49.08 483.32,49.02 483.55,48.95 483.77,48.89 483.99,48.82 484.21,48.76 484.44,48.70 484.66,48.63 484.88,48.57 485.10,48.50 485.32,48.44 485.55,48.38 485.77,48.31 485.99,48.25 486.21,48.18 486.44,48.12 486.66,48.06 486.88,47.99 487.11,47.93 487.33,47.86 487.55,47.80 487.77,47.74 488.00,47.67 488.22,47.61 488.44,47.54 488.66,47.48 488.88,47.42 489.11,47.35 489.33,47.29 489.55,47.22 489.77,47.16 490.00,47.10 490.22,47.03 490.44,46.97 490.67,46.90 490.89,46.84 491.11,46.78 491.33,46.71 491.56,46.65 491.78,46.58 492.00,46.52 492.22,46.46 492.44,46.39 492.67,46.33 492.89,46.26 493.11,46.20 493.33,46.14 493.56,46.07 493.78,46.01 494.00,45.94 494.23,45.88 494.45,45.82 494.67,45.75 494.89,45.69 495.12,45.62 495.34,45.56 495.56,45.50 495.78,45.43 496.00,45.37 496.23,45.30 496.45,45.24 496.67,45.18 496.89,45.11 497.12,45.05 497.34,44.98 497.56,44.92 497.78,44.86 498.01,44.79 498.23,44.73 498.45,44.66 498.68,44.60 498.90,44.54 499.12,44.47 499.34,44.41 499.56,44.34 499.79,44.28 500.01,44.22 500.23,44.15 500.45,44.09 500.68,44.03 500.90,43.99 501.12,43.97 501.35,43.96" fill="none" stroke="#5A90C8" stroke-width="0.6"/>
<rect x="447.39" y="48.56" width="2.00" height="2.00" fill="#5A90C8" stroke="none" stroke-width="0.6"/>
<rect x="449.17" y="45.23" width="2.00" height="2.00" fill="#5A90C8" stroke="none" stroke-width="0.6"/>
<rect x="450.95" y="44.06" width="2.00" height="2.00" fill="#5A90C8" stroke="none" stroke-width="0.6"/>
<rect x="452.73" y="43.91" width="2.00" height="2.00" fill="#5A90C8" stroke="none" stroke-width="0.6"/>
<rect x="454.51" y="44.37" width="2.00" height="2.00" fill="#5A90C8" stroke="none" stroke-width="0.6"/>
<rect x="456.29" y="44.99" width="2.00" height="2.00" fill="#5A90C8" stroke="none" stroke-width="0.6"/>
<rect x="458.07" y="46.09" width="2.00" height="2.00" fill="#5A90C8" stroke="none" stroke-width="0.6"/>
<rect x="459.85" y="47.18" width="2.00" height="2.00" fill="#5A90C8" stroke="none" stroke-width="0.6"/>
<rect x="461.63" y="48.89" width="2.00" height="2.00" fill="#5A90C8" stroke="none" stroke-width="0.6"/>
<rect x="463.41" y="52.77" width="2.00" height="2.00" fill="#5A90C8" stroke="none" stroke-width="0.6"/>
<rect x="465.19" y="64.80" width="2.00" height="2.00" fill="#5A90C8" stroke="none" stroke-width="0.6"/>
<rect x="466.97" y="76.37" width="2.00" height="2.00" fill="#5A90C8" stroke="none" stroke-width="0.6"/>
<rect x="468.75" y="78.25" width="2.00" height="2.00" fill="#5A90C8" stroke="none" stroke-width="0.6"/>
<rect x="470.53" y="78.47" width="2.00" height="2.00" fill="#5A90C8" stroke="none" stroke-width="0.6"/>
<rect x="472.31" y="77.94" width="2.00" height="2.00" fill="#5A90C8" stroke="none" stroke-width="0.6"/>
<rect x="474.09" y="75.99" width="2.00" height="2.00" fill="#5A90C8" stroke="none" stroke-width="0.6"/>
<rect x="475.87" y="69.95" width="2.00" height="2.00" fill="#5A90C8" stroke="none" stroke-width="0.6"/>
<rect x="477.65" y="49.62" width="2.00" height="2.00" fill="#5A90C8" stroke="none" stroke-width="0.6"/>
<rect x="479.43" y="48.85" width="2.00" height="2.00" fill="#5A90C8" stroke="none" stroke-width="0.6"/>
<rect x="481.21" y="48.34" width="2.00" height="2.00" fill="#5A90C8" stroke="none" stroke-width="0.6"/>
<rect x="482.99" y="47.82" width="2.00" height="2.00" fill="#5A90C8" stroke="none" stroke-width="0.6"/>
<rect x="484.77" y="47.31" width="2.00" height="2.00" fill="#5A90C8" stroke="none" stroke-width="0.6"/>
<rect x="486.55" y="46.80" width="2.00" height="2.00" fill="#5A90C8" stroke="none" stroke-width="0.6"/>
<rect x="488.33" y="46.29" width="2.00" height="2.00" fill="#5A90C8" stroke="none" stroke-width="0.6"/>
<rect x="490.11" y="45.78" width="2.00" height="2.00" fill="#5A90C8" stroke="none" stroke-width="0.6"/>
<rect x="491.89" y="45.26" width="2.00" height="2.00" fill="#5A90C8" stroke="none" stroke-width="0.6"/>
<rect x="493.67" y="44.75" width="2.00" height="2.00" fill="#5A90C8" stroke="none" stroke-width="0.6"/>
<rect x="495.45" y="44.24" width="2.00" height="2.00" fill="#5A90C8" stroke="none" stroke-width="0.6"/>
<rect x="497.23" y="43.73" width="2.00" height="2.00" fill="#5A90C8" stroke="none" stroke-width="0.6"/>
<rect x="499.01" y="43.22" width="2.00" height="2.00" fill="#5A90C8" stroke="none" stroke-width="0.6"/>
<polyline points="447.50,50.90 447.72,50.44 447.94,49.82 448.17,49.14 448.39,48.46 448.61,47.77 448.83,47.10 449.06,46.47 449.28,45.96 449.50,45.65 449.73,45.46 449.95,45.33 450.17,45.20 450.39,45.07 450.62,44.94 450.84,44.81 451.06,44.68 451.28,44.55 451.50,44.42 451.73,44.29 451.95,44.17 452.17,44.04 452.39,43.91 452.62,43.78 452.84,43.67 453.06,43.61 453.29,43.61 453.51,43.66 453.73,43.73 453.95,43.80 454.18,43.87 454.40,43.94 454.62,44.01 454.84,44.07 455.06,44.14 455.29,44.21 455.51,44.28 455.73,44.35 455.95,44.42 456.18,44.49 456.40,44.56 456.62,44.63 456.85,44.70 457.07,44.77 457.29,44.86 457.51,44.96 457.74,45.08 457.96,45.20 458.18,45.32 458.40,45.44 458.62,45.56 458.85,45.68 459.07,45.79 459.29,45.91 459.51,46.03 459.74,46.15 459.96,46.27 460.18,46.39 460.40,46.51 460.63,46.63 460.85,46.75 461.07,46.87 461.30,46.99 461.52,47.11 461.74,47.23 461.96,47.38 462.19,47.57 462.41,47.85 462.63,48.18 462.85,48.52 463.07,48.87 463.30,49.22 463.52,49.57 463.74,49.93 463.96,50.28 464.19,50.63 464.41,50.98 464.63,51.33 464.86,51.68 465.08,52.06 465.30,52.52 465.52,53.13 465.75,53.87 465.97,54.70 466.19,55.53 466.41,56.37 466.63,57.21 466.86,58.02 467.08,58.79 467.30,59.47 467.52,60.11 467.75,60.73 467.97,61.34 468.19,61.96 468.42,62.57 468.64,63.19 468.86,63.80 469.08,64.41 469.31,65.02 469.53,65.62 469.75,66.22 469.97,66.81 470.19,67.40 470.42,67.99 470.64,68.59 470.86,69.18 471.08,69.77 471.31,70.37 471.53,70.99 471.75,71.63 471.98,72.29 472.20,72.95 472.42,73.61 472.64,74.28 472.87,74.92 473.09,75.47 473.31,75.84 473.53,76.02 473.75,76.09 473.98,76.13 474.20,76.16 474.42,76.20 474.64,76.23 474.87,76.27 475.09,76.30 475.31,76.34 475.54,76.37 475.76,76.40 475.98,76.41 476.20,76.38 476.43,76.34 476.65,76.29 476.87,76.24 477.09,76.19 477.31,76.14 477.54,76.07 477.76,75.90 477.98,75.57 478.20,75.06 478.43,74.44 478.65,73.78 478.87,73.13 479.10,72.48 479.32,71.82 479.54,71.14 479.76,70.31 479.99,69.10 480.21,67.28 480.43,65.08 480.65,62.73 480.88,60.37 481.10,58.14 481.32,56.24 481.54,54.85 481.76,53.81 481.99,53.02 482.21,52.48 482.43,52.16 482.65,51.99 482.88,51.86 483.10,51.73 483.32,51.59 483.55,51.46 483.77,51.34 483.99,51.22 484.21,51.11 484.44,51.01 484.66,50.92 484.88,50.82 485.10,50.73 485.32,50.63 485.55,50.54 485.77,50.44 485.99,50.34 486.21,50.25 486.44,50.15 486.66,50.06 486.88,49.96 487.11,49.87 487.33,49.77 487.55,49.68 487.77,49.58 488.00,49.49 488.22,49.39 488.44,49.30 488.66,49.20 488.88,49.11 489.11,49.01 489.33,48.92 489.55,48.82 489.77,48.72 490.00,48.63 490.22,48.53 490.44,48.44 490.67,48.34 490.89,48.25 491.11,48.15 491.33,48.06 491.56,47.96 491.78,47.87 492.00,47.77 492.22,47.68 492.44,47.58 492.67,47.49 492.89,47.39 493.11,47.29 493.33,47.20 493.56,47.10 493.78,47.01 494.00,46.91 494.23,46.82 494.45,46.72 494.67,46.63 494.89,46.53 495.12,46.44 495.34,46.34 495.56,46.25 495.78,46.15 496.00,46.06 496.23,45.96 496.45,45.87 496.67,45.77 496.89,45.67 497.12,45.58 497.34,45.48 497.56,45.39 497.78,45.29 498.01,45.20 498.23,45.10 498.45,45.01 498.68,44.91 498.90,44.82 499.12,44.72 499.34,44.63 499.56,44.53 499.79,44.44 500.01,44.34 500.23,44.24 500.45,44.15 500.68,44.07 500.90,44.00 501.12,43.97 501.35,43.96" fill="none" stroke="#A0D890" stroke-width="0.6"/>
<circle cx="448.39" cy="48.46" r="1.00" fill="#A0D890" stroke="none" stroke-width="0.6"/>
<circle cx="450.17" cy="45.20" r="1.00" fill="#A0D890" stroke="none" stroke-width="0.6"/>
<circle cx="451.95" cy="44.17" r="1.00" fill="#A0D890" stroke="none" stroke-width="0.6"/>
<circle cx="453.73" cy="43.73" r="1.00" fill="#A0D890" stroke="none" stroke-width="0.6"/>
<circle cx="455.51" cy="44.28" r="1.00" fill="#A0D890" stroke="none" stroke-width="0.6"/>
<circle cx="457.29" cy="44.86" r="1.00" fill="#A0D890" stroke="none" stroke-width="0.6"/>
<circle cx="459.07" cy="45.79" r="1.00" fill="#A0D890" stroke="none" stroke-width="0.6"/>
<circle cx="460.85" cy="46.75" r="1.00" fill="#A0D890" stroke="none" stroke-width="0.6"/>
<circle cx="462.63" cy="48.18" r="1.00" fill="#A0D890" stroke="none" stroke-width="0.6"/>
<circle cx="464.41" cy="50.98" r="1.00" fill="#A0D890" stroke="none" stroke-width="0.6"/>
<circle cx="466.19" cy="55.53" r="1.00" fill="#A0D890" stroke="none" stroke-width="0.6"/>
<circle cx="467.97" cy="61.34" r="1.00" fill="#A0D890" stroke="none" stroke-width="0.6"/>
<circle cx="469.75" cy="66.22" r="1.00" fill="#A0D890" stroke="none" stroke-width="0.6"/>
<circle cx="471.53" cy="70.99" r="1.00" fill="#A0D890" stroke="none" stroke-width="0.6"/>
<circle cx="473.31" cy="75.84" r="1.00" fill="#A0D890" stroke="none" stroke-width="0.6"/>
<circle cx="475.09" cy="76.30" r="1.00" fill="#A0D890" stroke="none" stroke-width="0.6"/>
<circle cx="476.87" cy="76.24" r="1.00" fill="#A0D890" stroke="none" stroke-width="0.6"/>
<circle cx="478.65" cy="73.78" r="1.00" fill="#A0D890" stroke="none" stroke-width="0.6"/>
<circle cx="480.43" cy="65.08" r="1.00" fill="#A0D890" stroke="none" stroke-width="0.6"/>
<circle cx="482.21" cy="52.48" r="1.00" fill="#A0D890" stroke="none" stroke-width="0.6"/>
<circle cx="483.99" cy="51.22" r="1.00" fill="#A0D890" stroke="none" stroke-width="0.6"/>
<circle cx="485.77" cy="50.44" r="1.00" fill="#A0D890" stroke="none" stroke-width="0.6"/>
<circle cx="487.55" cy="49.68" r="1.00" fill="#A0D890" stroke="none" stroke-width="0.6"/>
<circle cx="489.33" cy="48.92" r="1.00" fill="#A0D890" stroke="none" stroke-width="0.6"/>
<circle cx="491.11" cy="48.15" r="1.00" fill="#A0D890" stroke="none" stroke-width="0.6"/>
<circle cx="492.89" cy="47.39" r="1.00" fill="#A0D890" stroke="none" stroke-width="0.6"/>
<circle cx="494.67" cy="46.63" r="1.00" fill="#A0D890" stroke="none" stroke-width="0.6"/>
<circle cx="496.45" cy="45.87" r="1.00" fill="#A0D890" stroke="none" stroke-width="0.6"/>
<circle cx="498.23" cy="45.10" r="1.00" fill="#A0D890" stroke="none" stroke-width="0.6"/>
<circle cx="500.01" cy="44.34" r="1.00" fill="#A0D890" stroke="none" stroke-width="0.6"/>
<polyline points="447.50,52.06 447.72,51.69 447.94,51.19 448.17,50.65 448.39,50.10 448.61,49.56 448.83,49.01 449.06,48.51 449.28,48.08 449.50,47.80 449.73,47.60 449.95,47.44 450.17,47.28 450.39,47.13 450.62,46.97 450.84,46.81 451.06,46.66 451.28,46.50 451.50,46.34 451.73,46.19 451.95,46.03 452.17,45.90 452.39,45.81 452.62,45.80 452.84,45.84 453.06,45.90 453.29,45.96 453.51,46.02 453.73,46.08 453.95,46.14 454.18,46.20 454.40,46.26 454.62,46.32 454.84,46.39 455.06,46.45 455.29,46.51 455.51,46.57 455.73,46.63 455.95,46.69 456.18,46.76 456.40,46.83 456.62,46.92 456.85,47.01 457.07,47.11 457.29,47.21 457.51,47.31 457.74,47.41 457.96,47.50 458.18,47.60 458.40,47.70 458.62,47.80 458.85,47.90 459.07,48.00 459.29,48.10 459.51,48.20 459.74,48.29 459.96,48.39 460.18,48.49 460.40,48.59 460.63,48.69 460.85,48.80 461.07,48.93 461.30,49.06 461.52,49.20 461.74,49.34 461.96,49.47 462.19,49.61 462.41,49.75 462.63,49.90 462.85,50.16 463.07,50.59 463.30,51.21 463.52,51.93 463.74,52.70 463.96,53.46 464.19,54.23 464.41,55.03 464.63,55.92 464.86,56.90 465.08,57.94 465.30,59.01 465.52,60.07 465.75,61.15 465.97,62.28 466.19,63.53 466.41,64.99 466.63,66.58 466.86,68.21 467.08,69.83 467.30,71.37 467.52,72.85 467.75,74.28 467.97,75.69 468.19,77.05 468.42,78.26 468.64,79.20 468.86,79.90 469.08,80.46 469.31,80.99 469.53,81.52 469.75,82.00 469.97,82.38 470.19,82.59 470.42,82.70 470.64,82.77 470.86,82.83 471.08,82.89 471.31,82.94 471.53,82.95 471.75,82.92 471.98,82.84 472.20,82.73 472.42,82.61 472.64,82.50 472.87,82.38 473.09,82.25 473.31,82.10 473.53,81.90 473.75,81.67 473.98,81.43 474.20,81.19 474.42,80.88 474.64,80.35 474.87,79.47 475.09,78.23 475.31,76.74 475.54,75.04 475.76,72.91 475.98,70.12 476.20,66.49 476.43,62.61 476.65,59.31 476.87,56.81 477.09,54.86 477.31,53.23 477.54,51.94 477.76,51.17 477.98,50.89 478.20,50.77 478.43,50.70 478.65,50.62 478.87,50.55 479.10,50.47 479.32,50.40 479.54,50.34 479.76,50.30 479.99,50.26 480.21,50.23 480.43,50.20 480.65,50.16 480.88,50.13 481.10,50.10 481.32,50.07 481.54,50.04 481.76,50.00 481.99,49.97 482.21,49.94 482.43,49.91 482.65,49.88 482.88,49.84 483.10,49.81 483.32,49.78 483.55,49.75 483.77,49.72 483.99,49.68 484.21,49.65 484.44,49.62 484.66,49.59 484.88,49.56 485.10,49.52 485.32,49.49 485.55,49.46 485.77,49.43 485.99,49.40 486.21,49.36 486.44,49.33 486.66,49.30 486.88,49.27 487.11,49.24 487.33,49.20 487.55,49.17 487.77,49.14 488.00,49.11 488.22,49.08 488.44,49.04 488.66,49.01 488.88,48.98 489.11,48.95 489.33,48.92 489.55,48.88 489.77,48.85 490.00,48.82 490.22,48.79 490.44,48.76 490.67,48.72 490.89,48.69 491.11,48.66 491.33,48.63 491.56,48.60 491.78,48.56 492.00,48.53 492.22,48.50 492.44,48.47 492.67,48.44 492.89,48.40 493.11,48.37 493.33,48.34 493.56,48.31 493.78,48.28 494.00,48.24 494.23,48.21 494.45,48.18 494.67,48.15 494.89,48.12 495.12,48.08 495.34,48.05 495.56,48.02 495.78,47.99 496.00,47.96 496.23,47.92 496.45,47.89 496.67,47.86 496.89,47.83 497.12,47.80 497.34,47.76 497.56,47.73 497.78,47.70 498.01,47.67 498.23,47.64 498.45,47.60 498.68,47.57 498.90,47.54 499.12,47.51 499.34,47.48 499.56,47.44 499.79,47.41 500.01,47.38 500.23,47.35 500.45,47.32 500.68,47.29 500.90,47.27 501.12,47.26 501.35,47.25" fill="none" stroke="#2E4A8C" stroke-width="0.6"/>
<path d="M448.39,49.00 L449.49,50.90 L447.29,50.90 Z" fill="#2E4A8C" stroke="none" stroke-width="0.6"/>
<path d="M450.17,46.18 L451.27,48.08 L449.07,48.08 Z" fill="#2E4A8C" stroke="none" stroke-width="0.6"/>
<path d="M451.95,44.93 L453.05,46.83 L450.85,46.83 Z" fill="#2E4A8C" stroke="none" stroke-width="0.6"/>
<path d="M453.73,44.98 L454.83,46.88 L452.63,46.88 Z" fill="#2E4A8C" stroke="none" stroke-width="0.6"/>
<path d="M455.51,45.47 L456.61,47.37 L454.41,47.37 Z" fill="#2E4A8C" stroke="none" stroke-width="0.6"/>
<path d="M457.29,46.11 L458.39,48.01 L456.19,48.01 Z" fill="#2E4A8C" stroke="none" stroke-width="0.6"/>
<path d="M459.07,46.90 L460.17,48.80 L457.97,48.80 Z" fill="#2E4A8C" stroke="none" stroke-width="0.6"/>
<path d="M460.85,47.70 L461.95,49.60 L459.75,49.60 Z" fill="#2E4A8C" stroke="none" stroke-width="0.6"/>
<path d="M462.63,48.80 L463.73,50.70 L461.53,50.70 Z" fill="#2E4A8C" stroke="none" stroke-width="0.6"/>
<path d="M464.41,53.93 L465.51,55.83 L463.31,55.83 Z" fill="#2E4A8C" stroke="none" stroke-width="0.6"/>
<path d="M466.19,62.43 L467.29,64.33 L465.09,64.33 Z" fill="#2E4A8C" stroke="none" stroke-width="0.6"/>
<path d="M467.97,74.59 L469.07,76.49 L466.87,76.49 Z" fill="#2E4A8C" stroke="none" stroke-width="0.6"/>
<path d="M469.75,80.90 L470.85,82.80 L468.65,82.80 Z" fill="#2E4A8C" stroke="none" stroke-width="0.6"/>
<path d="M471.53,81.85 L472.63,83.75 L470.43,83.75 Z" fill="#2E4A8C" stroke="none" stroke-width="0.6"/>
<path d="M473.31,81.00 L474.41,82.90 L472.21,82.90 Z" fill="#2E4A8C" stroke="none" stroke-width="0.6"/>
<path d="M475.09,77.13 L476.19,79.03 L473.99,79.03 Z" fill="#2E4A8C" stroke="none" stroke-width="0.6"/>
<path d="M476.87,55.71 L477.97,57.61 L475.77,57.61 Z" fill="#2E4A8C" stroke="none" stroke-width="0.6"/>
<path d="M478.65,49.52 L479.75,51.42 L477.55,51.42 Z" fill="#2E4A8C" stroke="none" stroke-width="0.6"/>
<path d="M480.43,49.10 L481.53,51.00 L479.33,51.00 Z" fill="#2E4A8C" stroke="none" stroke-width="0.6"/>
<path d="M482.21,48.84 L483.31,50.74 L481.11,50.74 Z" fill="#2E4A8C" stroke="none" stroke-width="0.6"/>
<path d="M483.99,48.58 L485.09,50.48 L482.89,50.48 Z" fill="#2E4A8C" stroke="none" stroke-width="0.6"/>
<path d="M485.77,48.33 L486.87,50.23 L484.67,50.23 Z" fill="#2E4A8C" stroke="none" stroke-width="0.6"/>
<path d="M487.55,48.07 L488.65,49.97 L486.45,49.97 Z" fill="#2E4A8C" stroke="none" stroke-width="0.6"/>
<path d="M489.33,47.82 L490.43,49.72 L488.23,49.72 Z" fill="#2E4A8C" stroke="none" stroke-width="0.6"/>
<path d="M491.11,47.56 L492.21,49.46 L490.01,49.46 Z" fill="#2E4A8C" stroke="none" stroke-width="0.6"/>
<path d="M492.89,47.30 L493.99,49.20 L491.79,49.20 Z" fill="#2E4A8C" stroke="none" stroke-width="0.6"/>
<path d="M494.67,47.05 L495.77,48.95 L493.57,48.95 Z" fill="#2E4A8C" stroke="none" stroke-width="0.6"/>
<path d="M496.45,46.79 L497.55,48.69 L495.35,48.69 Z" fill="#2E4A8C" stroke="none" stroke-width="0.6"/>
<path d="M498.23,46.54 L499.33,48.44 L497.13,48.44 Z" fill="#2E4A8C" stroke="none" stroke-width="0.6"/>
<path d="M500.01,46.28 L501.11,48.18 L498.91,48.18 Z" fill="#2E4A8C" stroke="none" stroke-width="0.6"/>
<polyline points="447.50,50.99 447.72,50.65 447.94,50.21 448.17,49.72 448.39,49.23 448.61,48.73 448.83,48.24 449.06,47.79 449.28,47.42 449.50,47.19 449.73,47.05 449.95,46.94 450.17,46.83 450.39,46.73 450.62,46.62 450.84,46.52 451.06,46.42 451.28,46.31 451.50,46.21 451.73,46.10 451.95,46.00 452.17,45.89 452.39,45.79 452.62,45.69 452.84,45.61 453.06,45.58 453.29,45.62 453.51,45.69 453.73,45.77 453.95,45.86 454.18,45.94 454.40,46.03 454.62,46.12 454.84,46.20 455.06,46.29 455.29,46.38 455.51,46.46 455.73,46.55 455.95,46.63 456.18,46.72 456.40,46.81 456.62,46.89 456.85,46.98 457.07,47.08 457.29,47.18 457.51,47.29 457.74,47.40 457.96,47.50 458.18,47.61 458.40,47.72 458.62,47.82 458.85,47.93 459.07,48.04 459.29,48.14 459.51,48.25 459.74,48.36 459.96,48.46 460.18,48.57 460.40,48.68 460.63,48.78 460.85,48.89 461.07,49.00 461.30,49.10 461.52,49.21 461.74,49.33 461.96,49.47 462.19,49.65 462.41,49.87 462.63,50.10 462.85,50.34 463.07,50.58 463.30,50.81 463.52,51.05 463.74,51.28 463.96,51.52 464.19,51.81 464.41,52.29 464.63,53.08 464.86,54.16 465.08,55.41 465.30,56.69 465.52,57.97 465.75,59.25 465.97,60.53 466.19,61.81 466.41,63.07 466.63,64.29 466.86,65.45 467.08,66.56 467.30,67.66 467.52,68.76 467.75,69.86 467.97,70.95 468.19,71.97 468.42,72.85 468.64,73.49 468.86,73.98 469.08,74.40 469.31,74.82 469.53,75.24 469.75,75.65 469.97,76.07 470.19,76.48 470.42,76.86 470.64,77.16 470.86,77.31 471.08,77.39 471.31,77.43 471.53,77.47 471.75,77.51 471.98,77.54 472.20,77.58 472.42,77.62 472.64,77.65 472.87,77.69 473.09,77.71 473.31,77.70 473.53,77.63 473.75,77.54 473.98,77.43 474.20,77.32 474.42,77.21 474.64,77.10 474.87,76.99 475.09,76.88 475.31,76.77 475.54,76.66 475.76,76.52 475.98,76.30 476.20,75.97 476.43,75.56 476.65,75.13 476.87,74.69 477.09,74.25 477.31,73.81 477.54,73.37 477.76,72.92 477.98,72.37 478.20,71.60 478.43,70.47 478.65,69.11 478.87,67.66 479.10,66.20 479.32,64.72 479.54,63.19 479.76,61.61 479.99,59.98 480.21,58.36 480.43,56.77 480.65,55.27 480.88,53.92 481.10,52.86 481.32,52.26 481.54,51.94 481.76,51.74 481.99,51.55 482.21,51.36 482.43,51.19 482.65,51.04 482.88,50.93 483.10,50.86 483.32,50.79 483.55,50.73 483.77,50.66 483.99,50.60 484.21,50.53 484.44,50.47 484.66,50.40 484.88,50.34 485.10,50.28 485.32,50.21 485.55,50.15 485.77,50.08 485.99,50.02 486.21,49.96 486.44,49.89 486.66,49.83 486.88,49.76 487.11,49.70 487.33,49.63 487.55,49.57 487.77,49.51 488.00,49.44 488.22,49.38 488.44,49.31 488.66,49.25 488.88,49.18 489.11,49.12 489.33,49.06 489.55,48.99 489.77,48.93 490.00,48.86 490.22,48.80 490.44,48.73 490.67,48.67 490.89,48.61 491.11,48.54 491.33,48.48 491.56,48.41 491.78,48.35 492.00,48.28 492.22,48.22 492.44,48.16 492.67,48.09 492.89,48.03 493.11,47.96 493.33,47.90 493.56,47.84 493.78,47.77 494.00,47.71 494.23,47.64 494.45,47.58 494.67,47.51 494.89,47.45 495.12,47.39 495.34,47.32 495.56,47.26 495.78,47.19 496.00,47.13 496.23,47.06 496.45,47.00 496.67,46.94 496.89,46.87 497.12,46.81 497.34,46.74 497.56,46.68 497.78,46.61 498.01,46.55 498.23,46.49 498.45,46.42 498.68,46.36 498.90,46.29 499.12,46.23 499.34,46.16 499.56,46.10 499.79,46.04 500.01,45.97 500.23,45.91 500.45,45.84 500.68,45.79 500.90,45.74 501.12,45.72 501.35,45.72" fill="none" stroke="#F5B800" stroke-width="0.6"/>
<path d="M448.39,50.33 L449.49,48.43 L447.29,48.43 Z" fill="#F5B800" stroke="none" stroke-width="0.6"/>
<path d="M450.17,47.93 L451.27,46.03 L449.07,46.03 Z" fill="#F5B800" stroke="none" stroke-width="0.6"/>
<path d="M451.95,47.10 L453.05,45.20 L450.85,45.20 Z" fill="#F5B800" stroke="none" stroke-width="0.6"/>
<path d="M453.73,46.87 L454.83,44.97 L452.63,44.97 Z" fill="#F5B800" stroke="none" stroke-width="0.6"/>
<path d="M455.51,47.56 L456.61,45.66 L454.41,45.66 Z" fill="#F5B800" stroke="none" stroke-width="0.6"/>
<path d="M457.29,48.28 L458.39,46.38 L456.19,46.38 Z" fill="#F5B800" stroke="none" stroke-width="0.6"/>
<path d="M459.07,49.14 L460.17,47.24 L457.97,47.24 Z" fill="#F5B800" stroke="none" stroke-width="0.6"/>
<path d="M460.85,49.99 L461.95,48.09 L459.75,48.09 Z" fill="#F5B800" stroke="none" stroke-width="0.6"/>
<path d="M462.63,51.20 L463.73,49.30 L461.53,49.30 Z" fill="#F5B800" stroke="none" stroke-width="0.6"/>
<path d="M464.41,53.39 L465.51,51.49 L463.31,51.49 Z" fill="#F5B800" stroke="none" stroke-width="0.6"/>
<path d="M466.19,62.91 L467.29,61.01 L465.09,61.01 Z" fill="#F5B800" stroke="none" stroke-width="0.6"/>
<path d="M467.97,72.05 L469.07,70.15 L466.87,70.15 Z" fill="#F5B800" stroke="none" stroke-width="0.6"/>
<path d="M469.75,76.75 L470.85,74.85 L468.65,74.85 Z" fill="#F5B800" stroke="none" stroke-width="0.6"/>
<path d="M471.53,78.57 L472.63,76.67 L470.43,76.67 Z" fill="#F5B800" stroke="none" stroke-width="0.6"/>
<path d="M473.31,78.80 L474.41,76.90 L472.21,76.90 Z" fill="#F5B800" stroke="none" stroke-width="0.6"/>
<path d="M475.09,77.98 L476.19,76.08 L473.99,76.08 Z" fill="#F5B800" stroke="none" stroke-width="0.6"/>
<path d="M476.87,75.79 L477.97,73.89 L475.77,73.89 Z" fill="#F5B800" stroke="none" stroke-width="0.6"/>
<path d="M478.65,70.21 L479.75,68.31 L477.55,68.31 Z" fill="#F5B800" stroke="none" stroke-width="0.6"/>
<path d="M480.43,57.87 L481.53,55.97 L479.33,55.97 Z" fill="#F5B800" stroke="none" stroke-width="0.6"/>
<path d="M482.21,52.46 L483.31,50.56 L481.11,50.56 Z" fill="#F5B800" stroke="none" stroke-width="0.6"/>
<path d="M483.99,51.70 L485.09,49.80 L482.89,49.80 Z" fill="#F5B800" stroke="none" stroke-width="0.6"/>
<path d="M485.77,51.18 L486.87,49.28 L484.67,49.28 Z" fill="#F5B800" stroke="none" stroke-width="0.6"/>
<path d="M487.55,50.67 L488.65,48.77 L486.45,48.77 Z" fill="#F5B800" stroke="none" stroke-width="0.6"/>
<path d="M489.33,50.16 L490.43,48.26 L488.23,48.26 Z" fill="#F5B800" stroke="none" stroke-width="0.6"/>
<path d="M491.11,49.64 L492.21,47.74 L490.01,47.74 Z" fill="#F5B800" stroke="none" stroke-width="0.6"/>
<path d="M492.89,49.13 L493.99,47.23 L491.79,47.23 Z" fill="#F5B800" stroke="none" stroke-width="0.6"/>
<path d="M494.67,48.61 L495.77,46.71 L493.57,46.71 Z" fill="#F5B800" stroke="none" stroke-width="0.6"/>
<path d="M496.45,48.10 L497.55,46.20 L495.35,46.20 Z" fill="#F5B800" stroke="none" stroke-width="0.6"/>
<path d="M498.23,47.59 L499.33,45.69 L497.13,45.69 Z" fill="#F5B800" stroke="none" stroke-width="0.6"/>
<path d="M500.01,47.07 L501.11,45.17 L498.91,45.17 Z" fill="#F5B800" stroke="none" stroke-width="0.6"/>
<polyline points="447.50,51.58 447.72,51.81 447.94,52.13 448.17,52.47 448.39,52.78 448.61,53.01 448.83,53.09 449.06,53.09 449.28,53.06 449.50,53.02 449.73,52.98 449.95,52.94 450.17,52.90 450.39,52.86 450.62,52.82 450.84,52.78 451.06,52.76 451.28,52.75 451.50,52.75 451.73,52.75 451.95,52.76 452.17,52.76 452.39,52.76 452.62,52.77 452.84,52.77 453.06,52.78 453.29,52.78 453.51,52.79 453.73,52.79 453.95,52.79 454.18,52.80 454.40,52.80 454.62,52.81 454.84,52.81 455.06,52.81 455.29,52.82 455.51,52.82 455.73,52.83 455.95,52.83 456.18,52.84 456.40,52.84 456.62,52.84 456.85,52.85 457.07,52.85 457.29,52.86 457.51,52.86 457.74,52.87 457.96,52.87 458.18,52.87 458.40,52.88 458.62,52.88 458.85,52.89 459.07,52.89 459.29,52.90 459.51,52.90 459.74,52.90 459.96,52.91 460.18,52.91 460.40,52.92 460.63,52.92 460.85,52.92 461.07,52.93 461.30,52.93 461.52,52.94 461.74,52.94 461.96,52.95 462.19,52.95 462.41,52.96 462.63,52.99 462.85,53.05 463.07,53.13 463.30,53.21 463.52,53.33 463.74,53.53 463.96,53.84 464.19,54.28 464.41,54.75 464.63,55.24 464.86,55.73 465.08,56.28 465.30,56.96 465.52,57.86 465.75,58.89 465.97,59.98 466.19,61.08 466.41,62.15 466.63,63.17 466.86,64.12 467.08,65.01 467.30,65.86 467.52,66.62 467.75,67.13 467.97,67.38 468.19,67.45 468.42,67.47 468.64,67.47 468.86,67.48 469.08,67.49 469.31,67.50 469.53,67.50 469.75,67.51 469.97,67.52 470.19,67.52 470.42,67.53 470.64,67.54 470.86,67.54 471.08,67.55 471.31,67.56 471.53,67.56 471.75,67.57 471.98,67.58 472.20,67.59 472.42,67.59 472.64,67.60 472.87,67.61 473.09,67.61 473.31,67.62 473.53,67.63 473.75,67.63 473.98,67.64 474.20,67.65 474.42,67.60 474.64,67.39 474.87,66.91 475.09,66.14 475.31,65.04 475.54,63.43 475.76,61.07 475.98,58.33 476.20,55.86 476.43,54.17 476.65,53.33 476.87,52.99 477.09,52.81 477.31,52.65 477.54,52.49 477.76,52.38 477.98,52.32 478.20,52.31 478.43,52.31 478.65,52.31 478.87,52.31 479.10,52.31 479.32,52.31 479.54,52.32 479.76,52.32 479.99,52.32 480.21,52.32 480.43,52.33 480.65,52.33 480.88,52.33 481.10,52.33 481.32,52.33 481.54,52.34 481.76,52.34 481.99,52.34 482.21,52.34 482.43,52.34 482.65,52.35 482.88,52.35 483.10,52.35 483.32,52.35 483.55,52.35 483.77,52.36 483.99,52.36 484.21,52.36 484.44,52.36 484.66,52.37 484.88,52.37 485.10,52.37 485.32,52.37 485.55,52.37 485.77,52.38 485.99,52.38 486.21,52.38 486.44,52.38 486.66,52.38 486.88,52.39 487.11,52.39 487.33,52.39 487.55,52.39 487.77,52.39 488.00,52.40 488.22,52.40 488.44,52.40 488.66,52.40 488.88,52.41 489.11,52.41 489.33,52.41 489.55,52.41 489.77,52.41 490.00,52.42 490.22,52.42 490.44,52.42 490.67,52.42 490.89,52.42 491.11,52.43 491.33,52.43 491.56,52.43 491.78,52.43 492.00,52.44 492.22,52.44 492.44,52.44 492.67,52.44 492.89,52.44 493.11,52.45 493.33,52.45 493.56,52.45 493.78,52.45 494.00,52.45 494.23,52.46 494.45,52.46 494.67,52.46 494.89,52.46 495.12,52.46 495.34,52.47 495.56,52.47 495.78,52.47 496.00,52.47 496.23,52.48 496.45,52.48 496.67,52.48 496.89,52.48 497.12,52.48 497.34,52.49 497.56,52.49 497.78,52.49 498.01,52.49 498.23,52.49 498.45,52.50 498.68,52.50 498.90,52.50 499.12,52.50 499.34,52.50 499.56,52.51 499.79,52.51 500.01,52.51 500.23,52.51 500.45,52.52 500.68,52.52 500.90,52.52 501.12,52.52 501.35,52.52" fill="none" stroke="#7A7A7A" stroke-width="0.6"/>
<path d="M448.39,51.58 L449.59,52.78 L448.39,53.98 L447.19,52.78 Z" fill="#7A7A7A" stroke="none" stroke-width="0.6"/>
<path d="M450.17,51.70 L451.37,52.90 L450.17,54.10 L448.97,52.90 Z" fill="#7A7A7A" stroke="none" stroke-width="0.6"/>
<path d="M451.95,51.56 L453.15,52.76 L451.95,53.96 L450.75,52.76 Z" fill="#7A7A7A" stroke="none" stroke-width="0.6"/>
<path d="M453.73,51.59 L454.93,52.79 L453.73,53.99 L452.53,52.79 Z" fill="#7A7A7A" stroke="none" stroke-width="0.6"/>
<path d="M455.51,51.62 L456.71,52.82 L455.51,54.02 L454.31,52.82 Z" fill="#7A7A7A" stroke="none" stroke-width="0.6"/>
<path d="M457.29,51.66 L458.49,52.86 L457.29,54.06 L456.09,52.86 Z" fill="#7A7A7A" stroke="none" stroke-width="0.6"/>
<path d="M459.07,51.69 L460.27,52.89 L459.07,54.09 L457.87,52.89 Z" fill="#7A7A7A" stroke="none" stroke-width="0.6"/>
<path d="M460.85,51.72 L462.05,52.92 L460.85,54.12 L459.65,52.92 Z" fill="#7A7A7A" stroke="none" stroke-width="0.6"/>
<path d="M462.63,51.79 L463.83,52.99 L462.63,54.19 L461.43,52.99 Z" fill="#7A7A7A" stroke="none" stroke-width="0.6"/>
<path d="M464.41,53.55 L465.61,54.75 L464.41,55.95 L463.21,54.75 Z" fill="#7A7A7A" stroke="none" stroke-width="0.6"/>
<path d="M466.19,59.88 L467.39,61.08 L466.19,62.28 L464.99,61.08 Z" fill="#7A7A7A" stroke="none" stroke-width="0.6"/>
<path d="M467.97,66.18 L469.17,67.38 L467.97,68.58 L466.77,67.38 Z" fill="#7A7A7A" stroke="none" stroke-width="0.6"/>
<path d="M469.75,66.31 L470.95,67.51 L469.75,68.71 L468.55,67.51 Z" fill="#7A7A7A" stroke="none" stroke-width="0.6"/>
<path d="M471.53,66.36 L472.73,67.56 L471.53,68.76 L470.33,67.56 Z" fill="#7A7A7A" stroke="none" stroke-width="0.6"/>
<path d="M473.31,66.42 L474.51,67.62 L473.31,68.82 L472.11,67.62 Z" fill="#7A7A7A" stroke="none" stroke-width="0.6"/>
<path d="M475.09,64.94 L476.29,66.14 L475.09,67.34 L473.89,66.14 Z" fill="#7A7A7A" stroke="none" stroke-width="0.6"/>
<path d="M476.87,51.79 L478.07,52.99 L476.87,54.19 L475.67,52.99 Z" fill="#7A7A7A" stroke="none" stroke-width="0.6"/>
<path d="M478.65,51.11 L479.85,52.31 L478.65,53.51 L477.45,52.31 Z" fill="#7A7A7A" stroke="none" stroke-width="0.6"/>
<path d="M480.43,51.13 L481.63,52.33 L480.43,53.53 L479.23,52.33 Z" fill="#7A7A7A" stroke="none" stroke-width="0.6"/>
<path d="M482.21,51.14 L483.41,52.34 L482.21,53.54 L481.01,52.34 Z" fill="#7A7A7A" stroke="none" stroke-width="0.6"/>
<path d="M483.99,51.16 L485.19,52.36 L483.99,53.56 L482.79,52.36 Z" fill="#7A7A7A" stroke="none" stroke-width="0.6"/>
<path d="M485.77,51.18 L486.97,52.38 L485.77,53.58 L484.57,52.38 Z" fill="#7A7A7A" stroke="none" stroke-width="0.6"/>
<path d="M487.55,51.19 L488.75,52.39 L487.55,53.59 L486.35,52.39 Z" fill="#7A7A7A" stroke="none" stroke-width="0.6"/>
<path d="M489.33,51.21 L490.53,52.41 L489.33,53.61 L488.13,52.41 Z" fill="#7A7A7A" stroke="none" stroke-width="0.6"/>
<path d="M491.11,51.23 L492.31,52.43 L491.11,53.63 L489.91,52.43 Z" fill="#7A7A7A" stroke="none" stroke-width="0.6"/>
<path d="M492.89,51.24 L494.09,52.44 L492.89,53.64 L491.69,52.44 Z" fill="#7A7A7A" stroke="none" stroke-width="0.6"/>
<path d="M494.67,51.26 L495.87,52.46 L494.67,53.66 L493.47,52.46 Z" fill="#7A7A7A" stroke="none" stroke-width="0.6"/>
<path d="M496.45,51.28 L497.65,52.48 L496.45,53.68 L495.25,52.48 Z" fill="#7A7A7A" stroke="none" stroke-width="0.6"/>
<path d="M498.23,51.29 L499.43,52.49 L498.23,53.69 L497.03,52.49 Z" fill="#7A7A7A" stroke="none" stroke-width="0.6"/>
<path d="M500.01,51.31 L501.21,52.51 L500.01,53.71 L498.81,52.51 Z" fill="#7A7A7A" stroke="none" stroke-width="0.6"/>
<rect x="447.30" y="36.20" width="54.20" height="55.05" fill="none" stroke="#333" stroke-width="0.7"/>
<line x1="445.80" y1="52.30" x2="447.30" y2="52.30" stroke="#333" stroke-width="0.6"/>
<text x="446.30" y="54.60" font-size="6.5" text-anchor="end" fill="#111">0</text>
<line x1="445.80" y1="74.25" x2="447.30" y2="74.25" stroke="#333" stroke-width="0.6"/>
<text x="446.30" y="76.55" font-size="6.5" text-anchor="end" fill="#111">−10</text>
<line x1="447.50" y1="91.25" x2="447.50" y2="92.75" stroke="#333" stroke-width="0.6"/>
<text x="447.50" y="97.90" font-size="6.6" text-anchor="middle" fill="#111">0</text>
<line x1="465.30" y1="91.25" x2="465.30" y2="92.75" stroke="#333" stroke-width="0.6"/>
<text x="465.30" y="97.90" font-size="6.6" text-anchor="middle" fill="#111">400</text>
<line x1="483.10" y1="91.25" x2="483.10" y2="92.75" stroke="#333" stroke-width="0.6"/>
<text x="483.10" y="97.90" font-size="6.6" text-anchor="middle" fill="#111">800</text>
<text x="474.40" y="103.50" font-size="6.4" font-weight="bold" text-anchor="middle" fill="#000">Temperature (°C)</text>
<text x="441.50" y="54.50" font-size="5.4" font-weight="bold" text-anchor="middle" fill="#000" transform="rotate(-90 441.50 54.50)">DTG (%/min)</text>
<rect x="555.15" y="51.60" width="7.50" height="75.10" fill="#344B6B" stroke="#1a1a1a" stroke-width="0.6"/>
<rect x="555.15" y="47.00" width="7.50" height="4.60" fill="#F2AA00" stroke="#1a1a1a" stroke-width="0.6"/>
<line x1="558.90" y1="47.25" x2="558.90" y2="56.25" stroke="#111" stroke-width="0.6"/>
<line x1="557.40" y1="47.25" x2="560.40" y2="47.25" stroke="#111" stroke-width="0.6"/>
<line x1="557.40" y1="56.25" x2="560.40" y2="56.25" stroke="#111" stroke-width="0.6"/>
<rect x="557.15" y="113.25" width="3.50" height="13.45" fill="#FBF5EC" stroke="#222" stroke-width="0.5"/>
<rect x="578.15" y="50.40" width="7.50" height="76.30" fill="#344B6B" stroke="#1a1a1a" stroke-width="0.6"/>
<rect x="578.15" y="47.00" width="7.50" height="3.40" fill="#F2AA00" stroke="#1a1a1a" stroke-width="0.6"/>
<line x1="581.90" y1="42.25" x2="581.90" y2="58.25" stroke="#111" stroke-width="0.6"/>
<line x1="580.40" y1="42.25" x2="583.40" y2="42.25" stroke="#111" stroke-width="0.6"/>
<line x1="580.40" y1="58.25" x2="583.40" y2="58.25" stroke="#111" stroke-width="0.6"/>
<rect x="580.15" y="118.25" width="3.50" height="8.45" fill="#FBF5EC" stroke="#222" stroke-width="0.5"/>
<rect x="601.25" y="50.75" width="7.50" height="75.95" fill="#344B6B" stroke="#1a1a1a" stroke-width="0.6"/>
<rect x="601.25" y="47.00" width="7.50" height="3.75" fill="#F2AA00" stroke="#1a1a1a" stroke-width="0.6"/>
<line x1="605.00" y1="43.50" x2="605.00" y2="57.50" stroke="#111" stroke-width="0.6"/>
<line x1="603.50" y1="43.50" x2="606.50" y2="43.50" stroke="#111" stroke-width="0.6"/>
<line x1="603.50" y1="57.50" x2="606.50" y2="57.50" stroke="#111" stroke-width="0.6"/>
<rect x="603.25" y="117.50" width="3.50" height="9.20" fill="#FBF5EC" stroke="#222" stroke-width="0.5"/>
<rect x="624.35" y="54.40" width="7.50" height="72.30" fill="#344B6B" stroke="#1a1a1a" stroke-width="0.6"/>
<rect x="624.35" y="47.00" width="7.50" height="7.40" fill="#F2AA00" stroke="#1a1a1a" stroke-width="0.6"/>
<line x1="628.10" y1="46.60" x2="628.10" y2="47.80" stroke="#111" stroke-width="0.6"/>
<line x1="626.60" y1="46.60" x2="629.60" y2="46.60" stroke="#111" stroke-width="0.6"/>
<line x1="626.60" y1="47.80" x2="629.60" y2="47.80" stroke="#111" stroke-width="0.6"/>
<rect x="626.35" y="108.25" width="3.50" height="18.45" fill="#FBF5EC" stroke="#222" stroke-width="0.5"/>
<rect x="647.45" y="58.10" width="7.50" height="68.60" fill="#344B6B" stroke="#1a1a1a" stroke-width="0.6"/>
<rect x="647.45" y="47.00" width="7.50" height="11.10" fill="#F2AA00" stroke="#1a1a1a" stroke-width="0.6"/>
<line x1="651.20" y1="56.20" x2="651.20" y2="58.40" stroke="#111" stroke-width="0.6"/>
<line x1="649.70" y1="56.20" x2="652.70" y2="56.20" stroke="#111" stroke-width="0.6"/>
<line x1="649.70" y1="58.40" x2="652.70" y2="58.40" stroke="#111" stroke-width="0.6"/>
<rect x="649.45" y="98.00" width="3.50" height="28.70" fill="#FBF5EC" stroke="#222" stroke-width="0.5"/>
<path d="M547.5,39.1 H662.3 V126.7 H547.5 Z" fill="none" stroke="#777" stroke-width="0.8"/>
<line x1="547.50" y1="39.10" x2="547.50" y2="126.70" stroke="#333" stroke-width="0.8"/>
<line x1="547.50" y1="126.70" x2="662.30" y2="126.70" stroke="#333" stroke-width="0.8"/>
<line x1="545.50" y1="126.70" x2="547.50" y2="126.70" stroke="#333" stroke-width="0.7"/>
<text x="544.50" y="129.20" font-size="7" text-anchor="end" fill="#111">0</text>
<line x1="545.50" y1="110.76" x2="547.50" y2="110.76" stroke="#333" stroke-width="0.7"/>
<text x="544.50" y="113.26" font-size="7" text-anchor="end" fill="#111">20</text>
<line x1="545.50" y1="94.82" x2="547.50" y2="94.82" stroke="#333" stroke-width="0.7"/>
<text x="544.50" y="97.32" font-size="7" text-anchor="end" fill="#111">40</text>
<line x1="545.50" y1="78.88" x2="547.50" y2="78.88" stroke="#333" stroke-width="0.7"/>
<text x="544.50" y="81.38" font-size="7" text-anchor="end" fill="#111">60</text>
<line x1="545.50" y1="62.94" x2="547.50" y2="62.94" stroke="#333" stroke-width="0.7"/>
<text x="544.50" y="65.44" font-size="7" text-anchor="end" fill="#111">80</text>
<line x1="545.50" y1="47.00" x2="547.50" y2="47.00" stroke="#333" stroke-width="0.7"/>
<text x="544.50" y="49.50" font-size="7" text-anchor="end" fill="#111">100</text>
<line x1="662.30" y1="126.40" x2="664.30" y2="126.40" stroke="#777" stroke-width="0.7"/>
<text x="664.80" y="128.90" font-size="6.9" text-anchor="start" fill="#A33068">0.0</text>
<line x1="662.30" y1="91.30" x2="664.30" y2="91.30" stroke="#777" stroke-width="0.7"/>
<text x="664.80" y="93.80" font-size="6.9" text-anchor="start" fill="#A33068">0.2</text>
<line x1="662.30" y1="56.20" x2="664.30" y2="56.20" stroke="#777" stroke-width="0.7"/>
<text x="664.80" y="58.70" font-size="6.9" text-anchor="start" fill="#A33068">0.4</text>
<line x1="558.90" y1="126.70" x2="558.90" y2="128.70" stroke="#333" stroke-width="0.7"/>
<text x="562.40" y="132.90" font-size="7.5" text-anchor="end" fill="#111" transform="rotate(-29 562.40 132.90)">260°C</text>
<line x1="581.90" y1="126.70" x2="581.90" y2="128.70" stroke="#333" stroke-width="0.7"/>
<text x="585.40" y="132.90" font-size="7.5" text-anchor="end" fill="#111" transform="rotate(-29 585.40 132.90)">280°C</text>
<line x1="605.00" y1="126.70" x2="605.00" y2="128.70" stroke="#333" stroke-width="0.7"/>
<text x="608.50" y="132.90" font-size="7.5" text-anchor="end" fill="#111" transform="rotate(-29 608.50 132.90)">300°C</text>
<line x1="628.10" y1="126.70" x2="628.10" y2="128.70" stroke="#333" stroke-width="0.7"/>
<text x="631.60" y="132.90" font-size="7.5" text-anchor="end" fill="#111" transform="rotate(-29 631.60 132.90)">320°C</text>
<line x1="651.20" y1="126.70" x2="651.20" y2="128.70" stroke="#333" stroke-width="0.7"/>
<text x="654.70" y="132.90" font-size="7.5" text-anchor="end" fill="#111" transform="rotate(-29 654.70 132.90)">VD300°C</text>
<text x="531.80" y="82.40" font-size="9.5" font-weight="bold" text-anchor="middle" fill="#000" transform="rotate(-90 531.80 82.40)">Content (wt%)</text>
<text x="684.20" y="82.80" font-size="9.4" font-weight="bold" text-anchor="middle" fill="#A3185A" transform="rotate(-90 684.20 82.80)">Fuel ratio</text>
<rect x="546.30" y="20.50" width="16.20" height="7.00" fill="#F2AA00" stroke="#555" stroke-width="0.5"/>
<text x="564.30" y="26.60" font-size="7" text-anchor="start" fill="#111">Fixed carbon</text>
<rect x="546.30" y="28.90" width="16.20" height="7.20" fill="#C8E8D2" stroke="#555" stroke-width="0.5"/>
<text x="564.30" y="35.20" font-size="7" text-anchor="start" fill="#111">Ash</text>
<rect x="607.00" y="20.50" width="15.50" height="7.30" fill="#344B6B" stroke="#555" stroke-width="0.5"/>
<text x="625.20" y="26.80" font-size="7" text-anchor="start" fill="#111">Volatile</text>
<rect x="607.00" y="29.90" width="15.50" height="7.20" fill="#FBF5EC" stroke="#555" stroke-width="0.5"/>
<text x="625.20" y="36.20" font-size="7.1" text-anchor="start" fill="#D0406A">Fuel ratio</text>
<line x1="88.10" y1="206.90" x2="90.60" y2="206.90" stroke="#222" stroke-width="0.9"/>
<text x="86.40" y="209.90" font-size="8.2" text-anchor="end" fill="#111">Green coal (This study)</text>
<line x1="88.10" y1="221.90" x2="90.60" y2="221.90" stroke="#222" stroke-width="0.9"/>
<text x="86.40" y="224.90" font-size="8.2" text-anchor="end" fill="#111">Traditional coal</text>
<line x1="88.10" y1="236.80" x2="90.60" y2="236.80" stroke="#222" stroke-width="0.9"/>
<text x="86.40" y="239.80" font-size="8.2" text-anchor="end" fill="#111">Pyrolysis char</text>
<line x1="88.10" y1="251.70" x2="90.60" y2="251.70" stroke="#222" stroke-width="0.9"/>
<text x="86.40" y="254.70" font-size="8.2" text-anchor="end" fill="#111">Pyrolysis bio-coal</text>
<line x1="88.10" y1="266.60" x2="90.60" y2="266.60" stroke="#222" stroke-width="0.9"/>
<text x="86.40" y="269.60" font-size="8.2" text-anchor="end" fill="#111">Torrefaction bio-coal</text>
<line x1="88.10" y1="281.40" x2="90.60" y2="281.40" stroke="#222" stroke-width="0.9"/>
<text x="86.40" y="284.40" font-size="8.2" text-anchor="end" fill="#111">Hydrochar</text>
<line x1="203.00" y1="206.90" x2="205.10" y2="206.90" stroke="#555" stroke-width="0.8"/>
<line x1="211.90" y1="206.90" x2="213.90" y2="206.90" stroke="#555" stroke-width="0.8"/>
<rect x="205.10" y="203.20" width="6.80" height="7.40" fill="#8E1B2E" stroke="#222" stroke-width="0.7"/>
<line x1="208.50" y1="203.20" x2="208.50" y2="210.60" stroke="#111" stroke-width="0.9"/>
<circle cx="203.00" cy="205.70" r="1.15" fill="#7A1426" stroke="none" stroke-width="0.5"/>
<circle cx="205.50" cy="206.90" r="1.15" fill="#7A1426" stroke="none" stroke-width="0.5"/>
<circle cx="207.00" cy="208.10" r="1.15" fill="#7A1426" stroke="none" stroke-width="0.5"/>
<circle cx="209.00" cy="206.30" r="1.15" fill="#7A1426" stroke="none" stroke-width="0.5"/>
<circle cx="210.50" cy="207.50" r="1.15" fill="#7A1426" stroke="none" stroke-width="0.5"/>
<circle cx="212.00" cy="205.70" r="1.15" fill="#7A1426" stroke="none" stroke-width="0.5"/>
<circle cx="213.90" cy="206.90" r="1.15" fill="#7A1426" stroke="none" stroke-width="0.5"/>
<line x1="129.30" y1="221.90" x2="161.30" y2="221.90" stroke="#555" stroke-width="0.8"/>
<line x1="218.40" y1="221.90" x2="226.00" y2="221.90" stroke="#555" stroke-width="0.8"/>
<rect x="161.30" y="218.20" width="57.10" height="7.40" fill="#F5B400" stroke="#222" stroke-width="0.7"/>
<line x1="183.40" y1="218.20" x2="183.40" y2="225.60" stroke="#111" stroke-width="0.9"/>
<circle cx="129.30" cy="220.70" r="1.15" fill="#E08A00" stroke="none" stroke-width="0.5"/>
<circle cx="161.00" cy="221.90" r="1.15" fill="#E08A00" stroke="none" stroke-width="0.5"/>
<circle cx="168.00" cy="223.10" r="1.15" fill="#E08A00" stroke="none" stroke-width="0.5"/>
<circle cx="191.30" cy="221.30" r="1.15" fill="#E08A00" stroke="none" stroke-width="0.5"/>
<circle cx="218.00" cy="222.50" r="1.15" fill="#E08A00" stroke="none" stroke-width="0.5"/>
<circle cx="226.00" cy="220.70" r="1.15" fill="#E08A00" stroke="none" stroke-width="0.5"/>
<line x1="153.70" y1="236.80" x2="169.50" y2="236.80" stroke="#555" stroke-width="0.8"/>
<line x1="200.80" y1="236.80" x2="209.10" y2="236.80" stroke="#555" stroke-width="0.8"/>
<rect x="169.50" y="233.10" width="31.30" height="7.40" fill="#C8C8C8" stroke="#222" stroke-width="0.7"/>
<line x1="184.20" y1="233.10" x2="184.20" y2="240.50" stroke="#111" stroke-width="0.9"/>
<circle cx="153.70" cy="235.60" r="1.15" fill="#555" stroke="none" stroke-width="0.5"/>
<circle cx="166.00" cy="236.80" r="1.15" fill="#555" stroke="none" stroke-width="0.5"/>
<circle cx="175.00" cy="238.00" r="1.15" fill="#555" stroke="none" stroke-width="0.5"/>
<circle cx="181.00" cy="236.20" r="1.15" fill="#555" stroke="none" stroke-width="0.5"/>
<circle cx="186.00" cy="237.40" r="1.15" fill="#555" stroke="none" stroke-width="0.5"/>
<circle cx="195.00" cy="235.60" r="1.15" fill="#555" stroke="none" stroke-width="0.5"/>
<circle cx="203.00" cy="236.80" r="1.15" fill="#555" stroke="none" stroke-width="0.5"/>
<circle cx="209.10" cy="238.00" r="1.15" fill="#555" stroke="none" stroke-width="0.5"/>
<line x1="205.30" y1="251.70" x2="205.60" y2="251.70" stroke="#555" stroke-width="0.8"/>
<line x1="212.00" y1="251.70" x2="212.50" y2="251.70" stroke="#555" stroke-width="0.8"/>
<rect x="205.60" y="248.00" width="6.40" height="7.40" fill="#34A874" stroke="#222" stroke-width="0.7"/>
<line x1="208.50" y1="248.00" x2="208.50" y2="255.40" stroke="#111" stroke-width="0.9"/>
<circle cx="187.30" cy="250.50" r="1.15" fill="#1E9E6A" stroke="none" stroke-width="0.5"/>
<circle cx="206.00" cy="251.70" r="1.15" fill="#1E9E6A" stroke="none" stroke-width="0.5"/>
<circle cx="208.00" cy="252.90" r="1.15" fill="#1E9E6A" stroke="none" stroke-width="0.5"/>
<circle cx="210.00" cy="251.10" r="1.15" fill="#1E9E6A" stroke="none" stroke-width="0.5"/>
<circle cx="212.50" cy="252.30" r="1.15" fill="#1E9E6A" stroke="none" stroke-width="0.5"/>
<line x1="127.50" y1="266.60" x2="151.20" y2="266.60" stroke="#555" stroke-width="0.8"/>
<line x1="174.00" y1="266.60" x2="197.20" y2="266.60" stroke="#555" stroke-width="0.8"/>
<rect x="151.20" y="262.90" width="22.80" height="7.40" fill="#8C93CF" stroke="#222" stroke-width="0.7"/>
<line x1="168.00" y1="262.90" x2="168.00" y2="270.30" stroke="#111" stroke-width="0.9"/>
<circle cx="115.80" cy="265.40" r="1.15" fill="#2B3A7A" stroke="none" stroke-width="0.5"/>
<circle cx="127.50" cy="266.60" r="1.15" fill="#2B3A7A" stroke="none" stroke-width="0.5"/>
<circle cx="160.00" cy="267.80" r="1.15" fill="#2B3A7A" stroke="none" stroke-width="0.5"/>
<circle cx="166.00" cy="266.00" r="1.15" fill="#2B3A7A" stroke="none" stroke-width="0.5"/>
<circle cx="172.00" cy="267.20" r="1.15" fill="#2B3A7A" stroke="none" stroke-width="0.5"/>
<circle cx="186.50" cy="265.40" r="1.15" fill="#2B3A7A" stroke="none" stroke-width="0.5"/>
<circle cx="197.20" cy="266.60" r="1.15" fill="#2B3A7A" stroke="none" stroke-width="0.5"/>
<line x1="179.30" y1="281.40" x2="182.90" y2="281.40" stroke="#555" stroke-width="0.8"/>
<line x1="205.00" y1="281.40" x2="213.90" y2="281.40" stroke="#555" stroke-width="0.8"/>
<rect x="182.90" y="277.70" width="22.10" height="7.40" fill="#8DB8E0" stroke="#222" stroke-width="0.7"/>
<line x1="195.50" y1="277.70" x2="195.50" y2="285.10" stroke="#111" stroke-width="0.9"/>
<circle cx="179.30" cy="280.20" r="1.15" fill="#3F7FC0" stroke="none" stroke-width="0.5"/>
<circle cx="183.00" cy="281.40" r="1.15" fill="#3F7FC0" stroke="none" stroke-width="0.5"/>
<circle cx="188.00" cy="282.60" r="1.15" fill="#3F7FC0" stroke="none" stroke-width="0.5"/>
<circle cx="192.00" cy="280.80" r="1.15" fill="#3F7FC0" stroke="none" stroke-width="0.5"/>
<circle cx="197.00" cy="282.00" r="1.15" fill="#3F7FC0" stroke="none" stroke-width="0.5"/>
<circle cx="201.00" cy="280.20" r="1.15" fill="#3F7FC0" stroke="none" stroke-width="0.5"/>
<circle cx="205.00" cy="281.40" r="1.15" fill="#3F7FC0" stroke="none" stroke-width="0.5"/>
<circle cx="210.00" cy="282.60" r="1.15" fill="#3F7FC0" stroke="none" stroke-width="0.5"/>
<circle cx="213.90" cy="280.80" r="1.15" fill="#3F7FC0" stroke="none" stroke-width="0.5"/>
<rect x="90.60" y="199.50" width="154.40" height="89.80" fill="none" stroke="#222" stroke-width="0.9"/>
<line x1="90.40" y1="289.30" x2="90.40" y2="291.30" stroke="#333" stroke-width="0.7"/>
<text x="90.40" y="300.90" font-size="9.25" text-anchor="middle" fill="#111">0</text>
<line x1="129.05" y1="289.30" x2="129.05" y2="291.30" stroke="#333" stroke-width="0.7"/>
<text x="129.05" y="300.90" font-size="9.25" text-anchor="middle" fill="#111">10</text>
<line x1="167.70" y1="289.30" x2="167.70" y2="291.30" stroke="#333" stroke-width="0.7"/>
<text x="167.70" y="300.90" font-size="9.25" text-anchor="middle" fill="#111">20</text>
<line x1="206.35" y1="289.30" x2="206.35" y2="291.30" stroke="#333" stroke-width="0.7"/>
<text x="206.35" y="300.90" font-size="9.25" text-anchor="middle" fill="#111">30</text>
<line x1="245.00" y1="289.30" x2="245.00" y2="291.30" stroke="#333" stroke-width="0.7"/>
<text x="245.00" y="300.90" font-size="9.25" text-anchor="middle" fill="#111">40</text>
<text x="168.0" y="317.7" font-size="9.7" font-weight="bold" text-anchor="middle" fill="#000">HHV (MJ kg<tspan dy="-3.3" font-size="6.5">-1</tspan><tspan dy="3.3">)</tspan></text>
<line x1="299.60" y1="285.20" x2="301.60" y2="285.20" stroke="#333" stroke-width="0.7"/>
<text x="298.80" y="288.60" font-size="9.5" text-anchor="end" fill="#111">0</text>
<line x1="299.60" y1="252.80" x2="301.60" y2="252.80" stroke="#333" stroke-width="0.7"/>
<text x="298.80" y="256.20" font-size="9.5" text-anchor="end" fill="#111">10</text>
<line x1="299.60" y1="220.40" x2="301.60" y2="220.40" stroke="#333" stroke-width="0.7"/>
<text x="298.80" y="223.80" font-size="9.5" text-anchor="end" fill="#111">20</text>
<line x1="299.60" y1="188.00" x2="301.60" y2="188.00" stroke="#333" stroke-width="0.7"/>
<text x="298.80" y="191.40" font-size="9.5" text-anchor="end" fill="#111">30</text>
<line x1="307.50" y1="292.30" x2="307.50" y2="294.30" stroke="#333" stroke-width="0.7"/>
<text x="307.50" y="302.50" font-size="9.5" text-anchor="middle" fill="#111">0</text>
<line x1="331.60" y1="292.30" x2="331.60" y2="294.30" stroke="#333" stroke-width="0.7"/>
<text x="331.60" y="302.50" font-size="9.5" text-anchor="middle" fill="#111">2</text>
<line x1="355.70" y1="292.30" x2="355.70" y2="294.30" stroke="#333" stroke-width="0.7"/>
<text x="355.70" y="302.50" font-size="9.5" text-anchor="middle" fill="#111">4</text>
<line x1="379.80" y1="292.30" x2="379.80" y2="294.30" stroke="#333" stroke-width="0.7"/>
<text x="379.80" y="302.50" font-size="9.5" text-anchor="middle" fill="#111">6</text>
<line x1="403.90" y1="292.30" x2="403.90" y2="294.30" stroke="#333" stroke-width="0.7"/>
<text x="403.90" y="302.50" font-size="9.5" text-anchor="middle" fill="#111">8</text>
<line x1="428.00" y1="292.30" x2="428.00" y2="294.30" stroke="#333" stroke-width="0.7"/>
<text x="428.00" y="302.50" font-size="9.5" text-anchor="middle" fill="#111">10</text>
<rect x="301.60" y="187.50" width="125.90" height="104.80" fill="none" stroke="#333" stroke-width="0.8"/>
<text x="284.20" y="239.80" font-size="9.6" font-weight="bold" text-anchor="middle" fill="#000" transform="rotate(-90 284.20 239.80)">Ash content (wt%)</text>
<text x="363.50" y="316.60" font-size="9.4" font-weight="bold" text-anchor="middle" fill="#000">Fuel ratio</text>
<path d="M315.75,191.75 L318.50,196.50 L313.00,196.50 Z" fill="#B8D8E8" stroke="none" stroke-width="0.6"/>
<rect x="317.25" y="192.25" width="4.50" height="4.50" fill="#7A7A7A" stroke="none" stroke-width="0.6"/>
<rect x="324.75" y="211.00" width="4.50" height="4.50" fill="#B8D8E8" stroke="none" stroke-width="0.6"/>
<circle cx="325.00" cy="239.25" r="2.50" fill="#7A7A7A" stroke="none" stroke-width="0.6"/>
<path d="M358.75,246.97 L361.77,252.20 L355.73,252.20 Z" fill="#7A7A7A" stroke="none" stroke-width="0.6"/>
<path d="M392.50,239.93 L395.52,234.70 L389.48,234.70 Z" fill="#7A7A7A" stroke="none" stroke-width="0.6"/>
<rect x="309.75" y="253.25" width="4.50" height="4.50" fill="#2E4A88" stroke="none" stroke-width="0.6"/>
<path d="M310.00,268.50 L312.75,263.75 L307.25,263.75 Z" fill="#B8E0C0" stroke="none" stroke-width="0.6"/>
<rect x="336.00" y="263.50" width="4.50" height="4.50" fill="#F5B400" stroke="none" stroke-width="0.6"/>
<circle cx="403.40" cy="269.20" r="2.25" fill="#B8D8E8" stroke="none" stroke-width="0.6"/>
<ellipse cx="311.6" cy="279.6" rx="9.4" ry="8.5" fill="none" stroke="#D04050" stroke-width="0.9" stroke-dasharray="2.6,1.8"/>
<rect x="305.60" y="279.00" width="3.60" height="3.60" fill="none" stroke="#A81830" stroke-width="1.4"/>
<circle cx="310.00" cy="280.80" r="1.70" fill="none" stroke="#A81830" stroke-width="1.4"/>
<rect x="313.20" y="276.20" width="4.00" height="4.00" fill="#C0283A" stroke="none" stroke-width="0.6"/>
<circle cx="315.50" cy="278.00" r="1.50" fill="#2E4A88" stroke="none" stroke-width="0.5"/>
<circle cx="315.30" cy="284.00" r="2.30" fill="#F5B400" stroke="none" stroke-width="0.5"/>
<path d="M322.80,279.44 L325.66,284.38 L319.94,284.38 Z" fill="#2E4A88" stroke="none" stroke-width="0.6"/>
<text x="328.80" y="283.80" font-size="10.4" font-weight="bold" text-anchor="start" fill="#C0202A">This study</text>
<rect x="440.10" y="196.30" width="4.20" height="4.20" fill="none" stroke="#C0283A" stroke-width="0.85"/>
<text x="454.70" y="201.40" font-size="8.5" text-anchor="start" fill="#111">VD300°C</text>
<circle cx="442.20" cy="208.86" r="2.25" fill="none" stroke="#C0283A" stroke-width="0.85"/>
<text x="454.70" y="211.86" font-size="8.5" text-anchor="start" fill="#111">260°C</text>
<path d="M442.20,216.84 L444.68,221.12 L439.72,221.12 Z" fill="none" stroke="#C0283A" stroke-width="0.85"/>
<text x="454.70" y="222.32" font-size="8.5" text-anchor="start" fill="#111">280°C</text>
<path d="M442.20,232.25 L444.68,227.98 L439.72,227.98 Z" fill="none" stroke="#C0283A" stroke-width="0.85"/>
<text x="454.70" y="232.78" font-size="8.5" text-anchor="start" fill="#111">300°C</text>
<path d="M442.20,237.54 L444.90,240.24 L442.20,242.94 L439.50,240.24 Z" fill="none" stroke="#C0283A" stroke-width="0.85"/>
<text x="454.70" y="243.24" font-size="8.5" text-anchor="start" fill="#111">320°C</text>
<rect x="440.20" y="248.50" width="4.40" height="4.40" fill="#2E4A88" stroke="none" stroke-width="0.6"/>
<text x="454.70" y="253.70" font-size="8.5" text-anchor="start" fill="#111">Wood chips hydrochar</text>
<circle cx="442.40" cy="261.16" r="2.40" fill="#2E4A88" stroke="none" stroke-width="0.6"/>
<text x="454.70" y="264.16" font-size="8.5" text-anchor="start" fill="#111">Miscanthus hydrochar</text>
<path d="M442.40,268.98 L445.04,273.54 L439.76,273.54 Z" fill="#2E4A88" stroke="none" stroke-width="0.6"/>
<text x="454.70" y="274.62" font-size="8.5" text-anchor="start" fill="#111">Pine lignin hydrochar</text>
<path d="M442.40,284.72 L445.04,280.16 L439.76,280.16 Z" fill="#B8E0C0" stroke="none" stroke-width="0.6"/>
<text x="454.70" y="285.08" font-size="8.5" text-anchor="start" fill="#111">Compressed bio-coal</text>
<rect x="546.70" y="196.50" width="4.20" height="4.20" fill="#F5B400" stroke="none" stroke-width="0.6"/>
<text x="560.90" y="201.60" font-size="8.5" text-anchor="start" fill="#111">TO-EFB bio-coal</text>
<circle cx="548.80" cy="209.02" r="2.40" fill="#F5B400" stroke="none" stroke-width="0.6"/>
<text x="560.90" y="212.02" font-size="8.5" text-anchor="start" fill="#111">TO-Lemongrass residue bio-coal</text>
<rect x="546.70" y="217.34" width="4.20" height="4.20" fill="#B8D8E8" stroke="none" stroke-width="0.6"/>
<text x="560.90" y="222.44" font-size="8.5" text-anchor="start" fill="#111">PY-lemongrass bio-coal</text>
<circle cx="548.80" cy="229.86" r="2.40" fill="#B8D8E8" stroke="none" stroke-width="0.6"/>
<text x="560.90" y="232.86" font-size="8.5" text-anchor="start" fill="#111">PY-bamboo bio-coal</text>
<path d="M548.80,237.64 L551.44,242.20 L546.16,242.20 Z" fill="#B8D8E8" stroke="none" stroke-width="0.6"/>
<text x="560.90" y="243.28" font-size="8.5" text-anchor="start" fill="#111">PY-oil palm trunk bio-coal</text>
<rect x="546.70" y="248.60" width="4.20" height="4.20" fill="#7A7A7A" stroke="none" stroke-width="0.6"/>
<text x="560.90" y="253.70" font-size="8.5" text-anchor="start" fill="#111">Lignite</text>
<circle cx="548.80" cy="261.12" r="2.40" fill="#7A7A7A" stroke="none" stroke-width="0.6"/>
<text x="560.90" y="264.12" font-size="8.5" text-anchor="start" fill="#111">Bituminous</text>
<path d="M548.80,268.90 L551.44,273.46 L546.16,273.46 Z" fill="#7A7A7A" stroke="none" stroke-width="0.6"/>
<text x="560.90" y="274.54" font-size="8.5" text-anchor="start" fill="#111">Semi-anthracite</text>
<path d="M548.80,284.60 L551.44,280.04 L546.16,280.04 Z" fill="#7A7A7A" stroke="none" stroke-width="0.6"/>
<text x="560.90" y="284.96" font-size="8.5" text-anchor="start" fill="#111">High-fuel-ratio coal</text>
<path d="M491.6,197.3 Q495.3,197.3 495.3,201 L495.3,215.5 Q495.3,219.6 499.6,219.6 Q495.3,219.6 495.3,223.7 L495.3,238 Q495.3,241.6 491.6,241.6" fill="none" stroke="#C41E2E" stroke-width="1.4"/>
<text x="507.00" y="216.80" font-size="10.4" font-weight="bold" text-anchor="start" fill="#C0202A">This</text>
<text x="506.90" y="230.00" font-size="10.4" font-weight="bold" text-anchor="start" fill="#C0202A">study</text>
</svg>
</body></html>
